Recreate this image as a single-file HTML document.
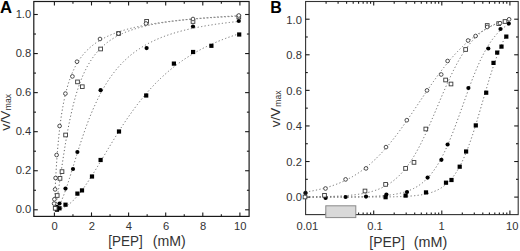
<!DOCTYPE html>
<html><head><meta charset="utf-8"><style>
html,body{margin:0;padding:0;background:#fff;}
body{width:520px;height:251px;overflow:hidden;}
svg{display:block;font-family:"Liberation Sans",sans-serif;fill:#333;}
</style></head><body>
<svg width="520" height="251" viewBox="0 0 520 251">
<rect width="520" height="251" fill="#fff"/>
<path d="M54.44,208.36 L54.70,200.44 L54.96,193.73 L55.23,187.71 L55.49,182.21 L55.76,177.14 L56.02,172.43 L56.28,168.02 L56.55,163.89 L56.81,160.01 L57.07,156.34 L57.34,152.87 L57.60,149.58 L57.87,146.46 L58.13,143.48 L58.39,140.65 L58.66,137.94 L58.92,135.35 L59.18,132.87 L59.45,130.50 L59.71,128.22 L59.98,126.03 L60.24,123.92 L60.50,121.90 L60.77,119.95 L61.03,118.07 L61.29,116.25 L61.56,114.50 L61.82,112.81 L62.09,111.17 L62.35,109.59 L62.61,108.06 L62.88,106.57 L63.14,105.13 L63.40,103.74 L63.67,102.38 L63.93,101.07 L64.20,99.79 L64.46,98.55 L64.72,97.34 L64.99,96.17 L65.25,95.03 L65.51,93.92 L65.78,92.83 L66.04,91.78 L66.31,90.75 L66.57,89.75 L66.83,88.77 L67.10,87.82 L67.36,86.89 L67.62,85.98 L67.89,85.09 L68.15,84.23 L68.42,83.38 L68.68,82.55 L68.94,81.74 L69.21,80.95 L69.47,80.17 L69.73,79.42 L70.00,78.67 L70.26,77.95 L70.53,77.24 L70.79,76.54 L71.05,75.86 L71.32,75.19 L71.58,74.53 L71.84,73.89 L72.11,73.26 L72.37,72.64 L72.64,72.03 L72.90,71.44 L73.16,70.85 L73.43,70.28 L73.69,69.72 L73.95,69.16 L74.22,68.62 L74.48,68.09 L74.75,67.56 L75.01,67.05 L75.27,66.54 L75.54,66.05 L75.80,65.56 L76.06,65.08 L76.33,64.60 L76.59,64.14 L76.86,63.68 L77.12,63.23 L77.38,62.79 L77.65,62.35 L77.91,61.92 L78.17,61.50 L78.44,61.08 L78.70,60.67 L78.97,60.27 L79.23,59.87 L79.49,59.48 L79.76,59.10 L80.02,58.72 L80.28,58.34 L80.55,57.97 L80.81,57.61 L81.08,57.25 L81.34,56.90 L81.60,56.55 L81.87,56.21 L82.13,55.87 L82.39,55.53 L82.66,55.20 L82.92,54.88 L83.19,54.56 L83.45,54.24 L83.71,53.93 L83.98,53.62 L84.24,53.32 L84.50,53.02 L84.77,52.72 L85.03,52.43 L85.30,52.14 L85.56,51.86 L85.82,51.57 L86.09,51.30 L86.35,51.02 L86.61,50.75 L86.88,50.48 L87.14,50.22 L87.41,49.96 L87.67,49.70 L87.93,49.44 L88.20,49.19 L88.46,48.94 L88.72,48.69 L88.99,48.45 L89.25,48.21 L89.52,47.97 L89.78,47.74 L90.04,47.50 L90.31,47.27 L90.57,47.05 L90.83,46.82 L91.10,46.60 L91.36,46.38 L91.63,46.16 L91.89,45.95 L92.15,45.73 L92.42,45.52 L92.68,45.32 L92.94,45.11 L93.21,44.91 L93.47,44.70 L93.74,44.50 L94.00,44.31 L94.26,44.11 L94.53,43.92 L94.79,43.73 L95.05,43.54 L95.32,43.35 L95.58,43.16 L95.85,42.98 L96.11,42.80 L96.37,42.62 L96.64,42.44 L96.90,42.26 L97.16,42.09 L97.43,41.91 L97.69,41.74 L97.96,41.57 L98.22,41.40 L98.48,41.23 L98.75,41.07 L99.01,40.91 L99.28,40.74 L99.54,40.58 L99.80,40.42 L100.07,40.27 L100.33,40.11 L100.59,39.95 L100.86,39.80 L101.12,39.65 L101.39,39.50 L101.65,39.35 L101.91,39.20 L102.18,39.05 L102.44,38.91 L102.70,38.76 L102.97,38.62 L103.23,38.48 L103.50,38.34 L103.76,38.20 L104.02,38.06 L104.29,37.92 L104.55,37.79 L104.81,37.65 L105.08,37.52 L105.34,37.39 L105.61,37.26 L105.87,37.13 L106.13,37.00 L106.40,36.87 L106.66,36.74 L106.92,36.62 L107.19,36.49 L107.45,36.37 L107.72,36.25 L107.98,36.12 L108.24,36.00 L108.51,35.88 L108.77,35.76 L109.03,35.65 L109.30,35.53 L109.56,35.41 L109.83,35.30 L110.09,35.18 L110.35,35.07 L110.62,34.96 L110.88,34.84 L111.14,34.73 L111.41,34.62 L111.67,34.51 L111.94,34.41 L112.20,34.30 L112.46,34.19 L112.73,34.09 L112.99,33.98 L113.25,33.88 L113.52,33.77 L113.78,33.67 L114.05,33.57 L114.31,33.47 L114.57,33.36 L114.84,33.26 L115.10,33.17 L115.36,33.07 L115.63,32.97 L115.89,32.87 L116.16,32.78 L116.42,32.68 L116.68,32.58 L116.95,32.49 L117.21,32.40 L117.47,32.30 L117.74,32.21 L118.00,32.12 L118.27,32.03 L118.53,31.94 L118.79,31.85 L119.06,31.76 L119.32,31.67 L119.58,31.58 L119.85,31.49 L120.11,31.41 L120.38,31.32 L120.64,31.23 L120.90,31.15 L121.17,31.06 L121.43,30.98 L121.69,30.90 L121.96,30.81 L122.22,30.73 L122.49,30.65 L122.75,30.57 L123.01,30.49 L123.28,30.41 L123.54,30.33 L123.80,30.25 L124.07,30.17 L124.33,30.09 L124.60,30.01 L124.86,29.94 L125.12,29.86 L125.39,29.78 L125.65,29.71 L125.91,29.63 L126.18,29.56 L126.44,29.48 L126.71,29.41 L126.97,29.33 L127.23,29.26 L127.50,29.19 L127.76,29.12 L128.02,29.04 L128.29,28.97 L128.55,28.90 L128.82,28.83 L129.08,28.76 L129.34,28.69 L129.61,28.62 L129.87,28.55 L130.13,28.48 L130.40,28.42 L130.66,28.35 L130.93,28.28 L131.19,28.22 L131.45,28.15 L131.72,28.08 L131.98,28.02 L132.24,27.95 L132.51,27.89 L132.77,27.82 L133.04,27.76 L133.30,27.69 L133.56,27.63 L133.83,27.57 L134.09,27.50 L134.35,27.44 L134.62,27.38 L134.88,27.32 L135.15,27.26 L135.41,27.20 L135.67,27.14 L135.94,27.08 L136.20,27.02 L136.46,26.96 L136.73,26.90 L136.99,26.84 L137.26,26.78 L137.52,26.72 L137.78,26.66 L138.05,26.60 L138.31,26.55 L138.57,26.49 L138.84,26.43 L139.10,26.38 L139.37,26.32 L139.63,26.26 L139.89,26.21 L140.16,26.15 L140.42,26.10 L140.68,26.04 L140.95,25.99 L141.21,25.94 L141.48,25.88 L141.74,25.83 L142.00,25.77 L142.27,25.72 L142.53,25.67 L142.79,25.62 L143.06,25.56 L143.32,25.51 L143.59,25.46 L143.85,25.41 L144.11,25.36 L144.38,25.31 L144.64,25.26 L144.90,25.21 L145.17,25.16 L145.43,25.11 L145.70,25.06 L145.96,25.01 L146.22,24.96 L146.49,24.91 L146.75,24.86 L147.01,24.81 L147.28,24.76 L147.54,24.71 L147.81,24.67 L148.07,24.62 L148.33,24.57 L148.60,24.53 L148.86,24.48 L149.12,24.43 L149.39,24.39 L149.65,24.34 L149.92,24.29 L150.18,24.25 L150.44,24.20 L150.71,24.16 L150.97,24.11 L151.23,24.07 L151.50,24.02 L151.76,23.98 L152.03,23.93 L152.29,23.89 L152.55,23.85 L152.82,23.80 L153.08,23.76 L153.34,23.72 L153.61,23.67 L153.87,23.63 L154.14,23.59 L154.40,23.55 L154.66,23.50 L154.93,23.46 L155.19,23.42 L155.45,23.38 L155.72,23.34 L155.98,23.29 L156.25,23.25 L156.51,23.21 L156.77,23.17 L157.04,23.13 L157.30,23.09 L157.56,23.05 L157.83,23.01 L158.09,22.97 L158.36,22.93 L158.62,22.89 L158.88,22.85 L159.15,22.81 L159.41,22.78 L159.67,22.74 L159.94,22.70 L160.20,22.66 L160.47,22.62 L160.73,22.58 L160.99,22.55 L161.26,22.51 L161.52,22.47 L161.78,22.43 L162.05,22.40 L162.31,22.36 L162.58,22.32 L162.84,22.28 L163.10,22.25 L163.37,22.21 L163.63,22.17 L163.89,22.14 L164.16,22.10 L164.42,22.07 L164.69,22.03 L164.95,22.00 L165.21,21.96 L165.48,21.92 L165.74,21.89 L166.00,21.85 L166.27,21.82 L166.53,21.79 L166.80,21.75 L167.06,21.72 L167.32,21.68 L167.59,21.65 L167.85,21.61 L168.11,21.58 L168.38,21.55 L168.64,21.51 L168.91,21.48 L169.17,21.45 L169.43,21.41 L169.70,21.38 L169.96,21.35 L170.22,21.31 L170.49,21.28 L170.75,21.25 L171.02,21.22 L171.28,21.18 L171.54,21.15 L171.81,21.12 L172.07,21.09 L172.33,21.06 L172.60,21.03 L172.86,20.99 L173.13,20.96 L173.39,20.93 L173.65,20.90 L173.92,20.87 L174.18,20.84 L174.44,20.81 L174.71,20.78 L174.97,20.75 L175.24,20.72 L175.50,20.69 L175.76,20.66 L176.03,20.63 L176.29,20.60 L176.55,20.57 L176.82,20.54 L177.08,20.51 L177.35,20.48 L177.61,20.45 L177.87,20.42 L178.14,20.39 L178.40,20.36 L178.66,20.33 L178.93,20.30 L179.19,20.27 L179.46,20.24 L179.72,20.22 L179.98,20.19 L180.25,20.16 L180.51,20.13 L180.77,20.10 L181.04,20.08 L181.30,20.05 L181.57,20.02 L181.83,19.99 L182.09,19.96 L182.36,19.94 L182.62,19.91 L182.88,19.88 L183.15,19.86 L183.41,19.83 L183.68,19.80 L183.94,19.77 L184.20,19.75 L184.47,19.72 L184.73,19.69 L184.99,19.67 L185.26,19.64 L185.52,19.61 L185.79,19.59 L186.05,19.56 L186.31,19.54 L186.58,19.51 L186.84,19.48 L187.10,19.46 L187.37,19.43 L187.63,19.41 L187.90,19.38 L188.16,19.36 L188.42,19.33 L188.69,19.31 L188.95,19.28 L189.21,19.26 L189.48,19.23 L189.74,19.21 L190.01,19.18 L190.27,19.16 L190.53,19.13 L190.80,19.11 L191.06,19.08 L191.32,19.06 L191.59,19.03 L191.85,19.01 L192.12,18.99 L192.38,18.96 L192.64,18.94 L192.91,18.91 L193.17,18.89 L193.43,18.87 L193.70,18.84 L193.96,18.82 L194.23,18.80 L194.49,18.77 L194.75,18.75 L195.02,18.73 L195.28,18.70 L195.54,18.68 L195.81,18.66 L196.07,18.63 L196.34,18.61 L196.60,18.59 L196.86,18.57 L197.13,18.54 L197.39,18.52 L197.65,18.50 L197.92,18.48 L198.18,18.45 L198.45,18.43 L198.71,18.41 L198.97,18.39 L199.24,18.37 L199.50,18.34 L199.76,18.32 L200.03,18.30 L200.29,18.28 L200.56,18.26 L200.82,18.23 L201.08,18.21 L201.35,18.19 L201.61,18.17 L201.87,18.15 L202.14,18.13 L202.40,18.11 L202.67,18.09 L202.93,18.06 L203.19,18.04 L203.46,18.02 L203.72,18.00 L203.98,17.98 L204.25,17.96 L204.51,17.94 L204.78,17.92 L205.04,17.90 L205.30,17.88 L205.57,17.86 L205.83,17.84 L206.09,17.82 L206.36,17.80 L206.62,17.78 L206.89,17.76 L207.15,17.74 L207.41,17.72 L207.68,17.70 L207.94,17.68 L208.20,17.66 L208.47,17.64 L208.73,17.62 L209.00,17.60 L209.26,17.58 L209.52,17.56 L209.79,17.54 L210.05,17.52 L210.31,17.50 L210.58,17.48 L210.84,17.46 L211.11,17.44 L211.37,17.42 L211.63,17.41 L211.90,17.39 L212.16,17.37 L212.42,17.35 L212.69,17.33 L212.95,17.31 L213.22,17.29 L213.48,17.27 L213.74,17.26 L214.01,17.24 L214.27,17.22 L214.53,17.20 L214.80,17.18 L215.06,17.16 L215.33,17.15 L215.59,17.13 L215.85,17.11 L216.12,17.09 L216.38,17.07 L216.64,17.05 L216.91,17.04 L217.17,17.02 L217.44,17.00 L217.70,16.98 L217.96,16.97 L218.23,16.95 L218.49,16.93 L218.75,16.91 L219.02,16.90 L219.28,16.88 L219.55,16.86 L219.81,16.84 L220.07,16.83 L220.34,16.81 L220.60,16.79 L220.86,16.77 L221.13,16.76 L221.39,16.74 L221.66,16.72 L221.92,16.71 L222.18,16.69 L222.45,16.67 L222.71,16.66 L222.97,16.64 L223.24,16.62 L223.50,16.61 L223.77,16.59 L224.03,16.57 L224.29,16.56 L224.56,16.54 L224.82,16.52 L225.08,16.51 L225.35,16.49 L225.61,16.47 L225.88,16.46 L226.14,16.44 L226.40,16.42 L226.67,16.41 L226.93,16.39 L227.19,16.38 L227.46,16.36 L227.72,16.34 L227.99,16.33 L228.25,16.31 L228.51,16.30 L228.78,16.28 L229.04,16.27 L229.30,16.25 L229.57,16.23 L229.83,16.22 L230.10,16.20 L230.36,16.19 L230.62,16.17 L230.89,16.16 L231.15,16.14 L231.41,16.13 L231.68,16.11 L231.94,16.10 L232.21,16.08 L232.47,16.07 L232.73,16.05 L233.00,16.03 L233.26,16.02 L233.52,16.00 L233.79,15.99 L234.05,15.97 L234.32,15.96 L234.58,15.94 L234.84,15.93 L235.11,15.92 L235.37,15.90 L235.63,15.89 L235.90,15.87 L236.16,15.86 L236.43,15.84 L236.69,15.83 L236.95,15.81 L237.22,15.80 L237.48,15.78 L237.74,15.77 L238.01,15.76 L238.27,15.74 L238.54,15.73 L238.80,15.71" fill="none" stroke="#646464" stroke-width="1.0" stroke-dasharray="1.2 2.3"/>
<path d="M54.44,209.78 L54.70,209.36 L54.96,208.67 L55.23,207.80 L55.49,206.79 L55.76,205.65 L56.02,204.42 L56.28,203.09 L56.55,201.69 L56.81,200.22 L57.07,198.70 L57.34,197.12 L57.60,195.49 L57.87,193.83 L58.13,192.14 L58.39,190.41 L58.66,188.66 L58.92,186.89 L59.18,185.11 L59.45,183.31 L59.71,181.50 L59.98,179.69 L60.24,177.87 L60.50,176.05 L60.77,174.23 L61.03,172.41 L61.29,170.60 L61.56,168.79 L61.82,166.99 L62.09,165.20 L62.35,163.42 L62.61,161.65 L62.88,159.89 L63.14,158.15 L63.40,156.42 L63.67,154.71 L63.93,153.01 L64.20,151.33 L64.46,149.67 L64.72,148.03 L64.99,146.40 L65.25,144.79 L65.51,143.20 L65.78,141.63 L66.04,140.07 L66.31,138.54 L66.57,137.02 L66.83,135.53 L67.10,134.05 L67.36,132.60 L67.62,131.16 L67.89,129.74 L68.15,128.34 L68.42,126.97 L68.68,125.61 L68.94,124.27 L69.21,122.94 L69.47,121.64 L69.73,120.36 L70.00,119.09 L70.26,117.85 L70.53,116.62 L70.79,115.41 L71.05,114.21 L71.32,113.04 L71.58,111.88 L71.84,110.74 L72.11,109.62 L72.37,108.51 L72.64,107.42 L72.90,106.35 L73.16,105.29 L73.43,104.25 L73.69,103.22 L73.95,102.21 L74.22,101.21 L74.48,100.23 L74.75,99.26 L75.01,98.31 L75.27,97.37 L75.54,96.45 L75.80,95.54 L76.06,94.64 L76.33,93.76 L76.59,92.89 L76.86,92.03 L77.12,91.19 L77.38,90.36 L77.65,89.54 L77.91,88.73 L78.17,87.94 L78.44,87.15 L78.70,86.38 L78.97,85.62 L79.23,84.87 L79.49,84.13 L79.76,83.40 L80.02,82.69 L80.28,81.98 L80.55,81.28 L80.81,80.60 L81.08,79.92 L81.34,79.25 L81.60,78.59 L81.87,77.94 L82.13,77.30 L82.39,76.67 L82.66,76.05 L82.92,75.44 L83.19,74.84 L83.45,74.24 L83.71,73.65 L83.98,73.07 L84.24,72.50 L84.50,71.94 L84.77,71.38 L85.03,70.83 L85.30,70.29 L85.56,69.76 L85.82,69.23 L86.09,68.72 L86.35,68.20 L86.61,67.70 L86.88,67.20 L87.14,66.71 L87.41,66.22 L87.67,65.74 L87.93,65.27 L88.20,64.80 L88.46,64.34 L88.72,63.89 L88.99,63.44 L89.25,63.00 L89.52,62.56 L89.78,62.13 L90.04,61.70 L90.31,61.28 L90.57,60.87 L90.83,60.46 L91.10,60.05 L91.36,59.65 L91.63,59.26 L91.89,58.87 L92.15,58.49 L92.42,58.11 L92.68,57.73 L92.94,57.36 L93.21,56.99 L93.47,56.63 L93.74,56.27 L94.00,55.92 L94.26,55.57 L94.53,55.23 L94.79,54.89 L95.05,54.55 L95.32,54.22 L95.58,53.89 L95.85,53.56 L96.11,53.24 L96.37,52.92 L96.64,52.61 L96.90,52.30 L97.16,52.00 L97.43,51.69 L97.69,51.39 L97.96,51.10 L98.22,50.80 L98.48,50.52 L98.75,50.23 L99.01,49.95 L99.28,49.67 L99.54,49.39 L99.80,49.12 L100.07,48.85 L100.33,48.58 L100.59,48.32 L100.86,48.05 L101.12,47.80 L101.39,47.54 L101.65,47.29 L101.91,47.04 L102.18,46.79 L102.44,46.54 L102.70,46.30 L102.97,46.06 L103.23,45.82 L103.50,45.59 L103.76,45.36 L104.02,45.13 L104.29,44.90 L104.55,44.68 L104.81,44.45 L105.08,44.23 L105.34,44.01 L105.61,43.80 L105.87,43.58 L106.13,43.37 L106.40,43.16 L106.66,42.96 L106.92,42.75 L107.19,42.55 L107.45,42.35 L107.72,42.15 L107.98,41.95 L108.24,41.76 L108.51,41.56 L108.77,41.37 L109.03,41.18 L109.30,41.00 L109.56,40.81 L109.83,40.63 L110.09,40.44 L110.35,40.26 L110.62,40.09 L110.88,39.91 L111.14,39.73 L111.41,39.56 L111.67,39.39 L111.94,39.22 L112.20,39.05 L112.46,38.88 L112.73,38.72 L112.99,38.55 L113.25,38.39 L113.52,38.23 L113.78,38.07 L114.05,37.91 L114.31,37.76 L114.57,37.60 L114.84,37.45 L115.10,37.30 L115.36,37.15 L115.63,37.00 L115.89,36.85 L116.16,36.70 L116.42,36.56 L116.68,36.41 L116.95,36.27 L117.21,36.13 L117.47,35.99 L117.74,35.85 L118.00,35.71 L118.27,35.57 L118.53,35.44 L118.79,35.30 L119.06,35.17 L119.32,35.04 L119.58,34.91 L119.85,34.78 L120.11,34.65 L120.38,34.52 L120.64,34.40 L120.90,34.27 L121.17,34.15 L121.43,34.02 L121.69,33.90 L121.96,33.78 L122.22,33.66 L122.49,33.54 L122.75,33.42 L123.01,33.31 L123.28,33.19 L123.54,33.07 L123.80,32.96 L124.07,32.85 L124.33,32.73 L124.60,32.62 L124.86,32.51 L125.12,32.40 L125.39,32.29 L125.65,32.19 L125.91,32.08 L126.18,31.97 L126.44,31.87 L126.71,31.76 L126.97,31.66 L127.23,31.56 L127.50,31.45 L127.76,31.35 L128.02,31.25 L128.29,31.15 L128.55,31.05 L128.82,30.95 L129.08,30.86 L129.34,30.76 L129.61,30.66 L129.87,30.57 L130.13,30.48 L130.40,30.38 L130.66,30.29 L130.93,30.20 L131.19,30.10 L131.45,30.01 L131.72,29.92 L131.98,29.83 L132.24,29.75 L132.51,29.66 L132.77,29.57 L133.04,29.48 L133.30,29.40 L133.56,29.31 L133.83,29.23 L134.09,29.14 L134.35,29.06 L134.62,28.97 L134.88,28.89 L135.15,28.81 L135.41,28.73 L135.67,28.65 L135.94,28.57 L136.20,28.49 L136.46,28.41 L136.73,28.33 L136.99,28.25 L137.26,28.18 L137.52,28.10 L137.78,28.02 L138.05,27.95 L138.31,27.87 L138.57,27.80 L138.84,27.72 L139.10,27.65 L139.37,27.58 L139.63,27.50 L139.89,27.43 L140.16,27.36 L140.42,27.29 L140.68,27.22 L140.95,27.15 L141.21,27.08 L141.48,27.01 L141.74,26.94 L142.00,26.87 L142.27,26.80 L142.53,26.74 L142.79,26.67 L143.06,26.60 L143.32,26.54 L143.59,26.47 L143.85,26.41 L144.11,26.34 L144.38,26.28 L144.64,26.21 L144.90,26.15 L145.17,26.09 L145.43,26.03 L145.70,25.96 L145.96,25.90 L146.22,25.84 L146.49,25.78 L146.75,25.72 L147.01,25.66 L147.28,25.60 L147.54,25.54 L147.81,25.48 L148.07,25.42 L148.33,25.36 L148.60,25.31 L148.86,25.25 L149.12,25.19 L149.39,25.13 L149.65,25.08 L149.92,25.02 L150.18,24.97 L150.44,24.91 L150.71,24.86 L150.97,24.80 L151.23,24.75 L151.50,24.69 L151.76,24.64 L152.03,24.59 L152.29,24.53 L152.55,24.48 L152.82,24.43 L153.08,24.38 L153.34,24.32 L153.61,24.27 L153.87,24.22 L154.14,24.17 L154.40,24.12 L154.66,24.07 L154.93,24.02 L155.19,23.97 L155.45,23.92 L155.72,23.87 L155.98,23.82 L156.25,23.78 L156.51,23.73 L156.77,23.68 L157.04,23.63 L157.30,23.59 L157.56,23.54 L157.83,23.49 L158.09,23.45 L158.36,23.40 L158.62,23.35 L158.88,23.31 L159.15,23.26 L159.41,23.22 L159.67,23.17 L159.94,23.13 L160.20,23.08 L160.47,23.04 L160.73,23.00 L160.99,22.95 L161.26,22.91 L161.52,22.87 L161.78,22.82 L162.05,22.78 L162.31,22.74 L162.58,22.70 L162.84,22.65 L163.10,22.61 L163.37,22.57 L163.63,22.53 L163.89,22.49 L164.16,22.45 L164.42,22.41 L164.69,22.37 L164.95,22.33 L165.21,22.29 L165.48,22.25 L165.74,22.21 L166.00,22.17 L166.27,22.13 L166.53,22.09 L166.80,22.05 L167.06,22.02 L167.32,21.98 L167.59,21.94 L167.85,21.90 L168.11,21.86 L168.38,21.83 L168.64,21.79 L168.91,21.75 L169.17,21.72 L169.43,21.68 L169.70,21.64 L169.96,21.61 L170.22,21.57 L170.49,21.54 L170.75,21.50 L171.02,21.47 L171.28,21.43 L171.54,21.40 L171.81,21.36 L172.07,21.33 L172.33,21.29 L172.60,21.26 L172.86,21.22 L173.13,21.19 L173.39,21.16 L173.65,21.12 L173.92,21.09 L174.18,21.06 L174.44,21.02 L174.71,20.99 L174.97,20.96 L175.24,20.93 L175.50,20.89 L175.76,20.86 L176.03,20.83 L176.29,20.80 L176.55,20.77 L176.82,20.73 L177.08,20.70 L177.35,20.67 L177.61,20.64 L177.87,20.61 L178.14,20.58 L178.40,20.55 L178.66,20.52 L178.93,20.49 L179.19,20.46 L179.46,20.43 L179.72,20.40 L179.98,20.37 L180.25,20.34 L180.51,20.31 L180.77,20.28 L181.04,20.25 L181.30,20.22 L181.57,20.19 L181.83,20.16 L182.09,20.14 L182.36,20.11 L182.62,20.08 L182.88,20.05 L183.15,20.02 L183.41,19.99 L183.68,19.97 L183.94,19.94 L184.20,19.91 L184.47,19.88 L184.73,19.86 L184.99,19.83 L185.26,19.80 L185.52,19.78 L185.79,19.75 L186.05,19.72 L186.31,19.70 L186.58,19.67 L186.84,19.64 L187.10,19.62 L187.37,19.59 L187.63,19.57 L187.90,19.54 L188.16,19.52 L188.42,19.49 L188.69,19.46 L188.95,19.44 L189.21,19.41 L189.48,19.39 L189.74,19.36 L190.01,19.34 L190.27,19.32 L190.53,19.29 L190.80,19.27 L191.06,19.24 L191.32,19.22 L191.59,19.19 L191.85,19.17 L192.12,19.15 L192.38,19.12 L192.64,19.10 L192.91,19.07 L193.17,19.05 L193.43,19.03 L193.70,19.00 L193.96,18.98 L194.23,18.96 L194.49,18.94 L194.75,18.91 L195.02,18.89 L195.28,18.87 L195.54,18.85 L195.81,18.82 L196.07,18.80 L196.34,18.78 L196.60,18.76 L196.86,18.73 L197.13,18.71 L197.39,18.69 L197.65,18.67 L197.92,18.65 L198.18,18.63 L198.45,18.60 L198.71,18.58 L198.97,18.56 L199.24,18.54 L199.50,18.52 L199.76,18.50 L200.03,18.48 L200.29,18.46 L200.56,18.44 L200.82,18.42 L201.08,18.39 L201.35,18.37 L201.61,18.35 L201.87,18.33 L202.14,18.31 L202.40,18.29 L202.67,18.27 L202.93,18.25 L203.19,18.23 L203.46,18.21 L203.72,18.19 L203.98,18.17 L204.25,18.16 L204.51,18.14 L204.78,18.12 L205.04,18.10 L205.30,18.08 L205.57,18.06 L205.83,18.04 L206.09,18.02 L206.36,18.00 L206.62,17.98 L206.89,17.96 L207.15,17.95 L207.41,17.93 L207.68,17.91 L207.94,17.89 L208.20,17.87 L208.47,17.85 L208.73,17.84 L209.00,17.82 L209.26,17.80 L209.52,17.78 L209.79,17.76 L210.05,17.75 L210.31,17.73 L210.58,17.71 L210.84,17.69 L211.11,17.68 L211.37,17.66 L211.63,17.64 L211.90,17.62 L212.16,17.61 L212.42,17.59 L212.69,17.57 L212.95,17.55 L213.22,17.54 L213.48,17.52 L213.74,17.50 L214.01,17.49 L214.27,17.47 L214.53,17.45 L214.80,17.44 L215.06,17.42 L215.33,17.40 L215.59,17.39 L215.85,17.37 L216.12,17.36 L216.38,17.34 L216.64,17.32 L216.91,17.31 L217.17,17.29 L217.44,17.27 L217.70,17.26 L217.96,17.24 L218.23,17.23 L218.49,17.21 L218.75,17.20 L219.02,17.18 L219.28,17.16 L219.55,17.15 L219.81,17.13 L220.07,17.12 L220.34,17.10 L220.60,17.09 L220.86,17.07 L221.13,17.06 L221.39,17.04 L221.66,17.03 L221.92,17.01 L222.18,17.00 L222.45,16.98 L222.71,16.97 L222.97,16.95 L223.24,16.94 L223.50,16.92 L223.77,16.91 L224.03,16.90 L224.29,16.88 L224.56,16.87 L224.82,16.85 L225.08,16.84 L225.35,16.82 L225.61,16.81 L225.88,16.80 L226.14,16.78 L226.40,16.77 L226.67,16.75 L226.93,16.74 L227.19,16.73 L227.46,16.71 L227.72,16.70 L227.99,16.68 L228.25,16.67 L228.51,16.66 L228.78,16.64 L229.04,16.63 L229.30,16.62 L229.57,16.60 L229.83,16.59 L230.10,16.58 L230.36,16.56 L230.62,16.55 L230.89,16.54 L231.15,16.52 L231.41,16.51 L231.68,16.50 L231.94,16.48 L232.21,16.47 L232.47,16.46 L232.73,16.45 L233.00,16.43 L233.26,16.42 L233.52,16.41 L233.79,16.40 L234.05,16.38 L234.32,16.37 L234.58,16.36 L234.84,16.34 L235.11,16.33 L235.37,16.32 L235.63,16.31 L235.90,16.30 L236.16,16.28 L236.43,16.27 L236.69,16.26 L236.95,16.25 L237.22,16.23 L237.48,16.22 L237.74,16.21 L238.01,16.20 L238.27,16.19 L238.54,16.17 L238.80,16.16" fill="none" stroke="#646464" stroke-width="1.0" stroke-dasharray="1.2 2.3"/>
<path d="M54.44,209.80 L54.70,209.77 L54.96,209.70 L55.23,209.60 L55.49,209.47 L55.76,209.31 L56.02,209.12 L56.28,208.91 L56.55,208.68 L56.81,208.42 L57.07,208.14 L57.34,207.84 L57.60,207.52 L57.87,207.17 L58.13,206.81 L58.39,206.42 L58.66,206.02 L58.92,205.60 L59.18,205.16 L59.45,204.70 L59.71,204.23 L59.98,203.73 L60.24,203.23 L60.50,202.70 L60.77,202.16 L61.03,201.61 L61.29,201.04 L61.56,200.46 L61.82,199.86 L62.09,199.26 L62.35,198.63 L62.61,198.00 L62.88,197.35 L63.14,196.69 L63.40,196.03 L63.67,195.35 L63.93,194.66 L64.20,193.96 L64.46,193.24 L64.72,192.53 L64.99,191.80 L65.25,191.06 L65.51,190.31 L65.78,189.56 L66.04,188.80 L66.31,188.03 L66.57,187.26 L66.83,186.48 L67.10,185.69 L67.36,184.89 L67.62,184.09 L67.89,183.29 L68.15,182.48 L68.42,181.67 L68.68,180.85 L68.94,180.02 L69.21,179.20 L69.47,178.37 L69.73,177.53 L70.00,176.69 L70.26,175.85 L70.53,175.01 L70.79,174.17 L71.05,173.32 L71.32,172.47 L71.58,171.62 L71.84,170.77 L72.11,169.91 L72.37,169.06 L72.64,168.21 L72.90,167.35 L73.16,166.49 L73.43,165.64 L73.69,164.78 L73.95,163.93 L74.22,163.07 L74.48,162.21 L74.75,161.36 L75.01,160.51 L75.27,159.65 L75.54,158.80 L75.80,157.95 L76.06,157.10 L76.33,156.26 L76.59,155.41 L76.86,154.57 L77.12,153.73 L77.38,152.89 L77.65,152.05 L77.91,151.21 L78.17,150.38 L78.44,149.55 L78.70,148.72 L78.97,147.90 L79.23,147.08 L79.49,146.26 L79.76,145.44 L80.02,144.63 L80.28,143.82 L80.55,143.01 L80.81,142.21 L81.08,141.41 L81.34,140.61 L81.60,139.82 L81.87,139.03 L82.13,138.24 L82.39,137.46 L82.66,136.68 L82.92,135.91 L83.19,135.14 L83.45,134.37 L83.71,133.61 L83.98,132.85 L84.24,132.09 L84.50,131.34 L84.77,130.59 L85.03,129.85 L85.30,129.11 L85.56,128.38 L85.82,127.64 L86.09,126.92 L86.35,126.20 L86.61,125.48 L86.88,124.76 L87.14,124.05 L87.41,123.35 L87.67,122.65 L87.93,121.95 L88.20,121.26 L88.46,120.57 L88.72,119.88 L88.99,119.21 L89.25,118.53 L89.52,117.86 L89.78,117.19 L90.04,116.53 L90.31,115.87 L90.57,115.22 L90.83,114.57 L91.10,113.92 L91.36,113.28 L91.63,112.64 L91.89,112.01 L92.15,111.38 L92.42,110.76 L92.68,110.14 L92.94,109.53 L93.21,108.91 L93.47,108.31 L93.74,107.70 L94.00,107.11 L94.26,106.51 L94.53,105.92 L94.79,105.34 L95.05,104.75 L95.32,104.18 L95.58,103.60 L95.85,103.03 L96.11,102.47 L96.37,101.91 L96.64,101.35 L96.90,100.80 L97.16,100.25 L97.43,99.70 L97.69,99.16 L97.96,98.62 L98.22,98.09 L98.48,97.56 L98.75,97.03 L99.01,96.51 L99.28,95.99 L99.54,95.48 L99.80,94.97 L100.07,94.46 L100.33,93.96 L100.59,93.46 L100.86,92.96 L101.12,92.47 L101.39,91.98 L101.65,91.50 L101.91,91.01 L102.18,90.54 L102.44,90.06 L102.70,89.59 L102.97,89.12 L103.23,88.66 L103.50,88.20 L103.76,87.74 L104.02,87.29 L104.29,86.84 L104.55,86.39 L104.81,85.95 L105.08,85.51 L105.34,85.07 L105.61,84.64 L105.87,84.21 L106.13,83.78 L106.40,83.36 L106.66,82.94 L106.92,82.52 L107.19,82.11 L107.45,81.70 L107.72,81.29 L107.98,80.88 L108.24,80.48 L108.51,80.08 L108.77,79.68 L109.03,79.29 L109.30,78.90 L109.56,78.51 L109.83,78.13 L110.09,77.75 L110.35,77.37 L110.62,76.99 L110.88,76.62 L111.14,76.25 L111.41,75.88 L111.67,75.52 L111.94,75.16 L112.20,74.80 L112.46,74.44 L112.73,74.09 L112.99,73.73 L113.25,73.38 L113.52,73.04 L113.78,72.69 L114.05,72.35 L114.31,72.01 L114.57,71.68 L114.84,71.35 L115.10,71.01 L115.36,70.69 L115.63,70.36 L115.89,70.03 L116.16,69.71 L116.42,69.39 L116.68,69.08 L116.95,68.76 L117.21,68.45 L117.47,68.14 L117.74,67.83 L118.00,67.53 L118.27,67.22 L118.53,66.92 L118.79,66.62 L119.06,66.33 L119.32,66.03 L119.58,65.74 L119.85,65.45 L120.11,65.16 L120.38,64.88 L120.64,64.59 L120.90,64.31 L121.17,64.03 L121.43,63.75 L121.69,63.48 L121.96,63.20 L122.22,62.93 L122.49,62.66 L122.75,62.39 L123.01,62.13 L123.28,61.86 L123.54,61.60 L123.80,61.34 L124.07,61.08 L124.33,60.82 L124.60,60.57 L124.86,60.31 L125.12,60.06 L125.39,59.81 L125.65,59.57 L125.91,59.32 L126.18,59.08 L126.44,58.83 L126.71,58.59 L126.97,58.35 L127.23,58.11 L127.50,57.88 L127.76,57.64 L128.02,57.41 L128.29,57.18 L128.55,56.95 L128.82,56.72 L129.08,56.50 L129.34,56.27 L129.61,56.05 L129.87,55.83 L130.13,55.61 L130.40,55.39 L130.66,55.17 L130.93,54.96 L131.19,54.74 L131.45,54.53 L131.72,54.32 L131.98,54.11 L132.24,53.90 L132.51,53.69 L132.77,53.49 L133.04,53.28 L133.30,53.08 L133.56,52.88 L133.83,52.68 L134.09,52.48 L134.35,52.28 L134.62,52.09 L134.88,51.89 L135.15,51.70 L135.41,51.50 L135.67,51.31 L135.94,51.12 L136.20,50.94 L136.46,50.75 L136.73,50.56 L136.99,50.38 L137.26,50.19 L137.52,50.01 L137.78,49.83 L138.05,49.65 L138.31,49.47 L138.57,49.30 L138.84,49.12 L139.10,48.94 L139.37,48.77 L139.63,48.60 L139.89,48.43 L140.16,48.25 L140.42,48.08 L140.68,47.92 L140.95,47.75 L141.21,47.58 L141.48,47.42 L141.74,47.25 L142.00,47.09 L142.27,46.93 L142.53,46.77 L142.79,46.61 L143.06,46.45 L143.32,46.29 L143.59,46.13 L143.85,45.98 L144.11,45.82 L144.38,45.67 L144.64,45.51 L144.90,45.36 L145.17,45.21 L145.43,45.06 L145.70,44.91 L145.96,44.76 L146.22,44.62 L146.49,44.47 L146.75,44.32 L147.01,44.18 L147.28,44.04 L147.54,43.89 L147.81,43.75 L148.07,43.61 L148.33,43.47 L148.60,43.33 L148.86,43.19 L149.12,43.05 L149.39,42.92 L149.65,42.78 L149.92,42.65 L150.18,42.51 L150.44,42.38 L150.71,42.25 L150.97,42.11 L151.23,41.98 L151.50,41.85 L151.76,41.72 L152.03,41.59 L152.29,41.47 L152.55,41.34 L152.82,41.21 L153.08,41.09 L153.34,40.96 L153.61,40.84 L153.87,40.71 L154.14,40.59 L154.40,40.47 L154.66,40.35 L154.93,40.23 L155.19,40.11 L155.45,39.99 L155.72,39.87 L155.98,39.75 L156.25,39.63 L156.51,39.52 L156.77,39.40 L157.04,39.29 L157.30,39.17 L157.56,39.06 L157.83,38.95 L158.09,38.83 L158.36,38.72 L158.62,38.61 L158.88,38.50 L159.15,38.39 L159.41,38.28 L159.67,38.17 L159.94,38.07 L160.20,37.96 L160.47,37.85 L160.73,37.75 L160.99,37.64 L161.26,37.53 L161.52,37.43 L161.78,37.33 L162.05,37.22 L162.31,37.12 L162.58,37.02 L162.84,36.92 L163.10,36.82 L163.37,36.72 L163.63,36.62 L163.89,36.52 L164.16,36.42 L164.42,36.32 L164.69,36.22 L164.95,36.13 L165.21,36.03 L165.48,35.93 L165.74,35.84 L166.00,35.74 L166.27,35.65 L166.53,35.56 L166.80,35.46 L167.06,35.37 L167.32,35.28 L167.59,35.19 L167.85,35.10 L168.11,35.00 L168.38,34.91 L168.64,34.82 L168.91,34.74 L169.17,34.65 L169.43,34.56 L169.70,34.47 L169.96,34.38 L170.22,34.30 L170.49,34.21 L170.75,34.12 L171.02,34.04 L171.28,33.95 L171.54,33.87 L171.81,33.78 L172.07,33.70 L172.33,33.62 L172.60,33.53 L172.86,33.45 L173.13,33.37 L173.39,33.29 L173.65,33.21 L173.92,33.13 L174.18,33.05 L174.44,32.97 L174.71,32.89 L174.97,32.81 L175.24,32.73 L175.50,32.65 L175.76,32.57 L176.03,32.50 L176.29,32.42 L176.55,32.34 L176.82,32.27 L177.08,32.19 L177.35,32.12 L177.61,32.04 L177.87,31.97 L178.14,31.89 L178.40,31.82 L178.66,31.75 L178.93,31.67 L179.19,31.60 L179.46,31.53 L179.72,31.46 L179.98,31.38 L180.25,31.31 L180.51,31.24 L180.77,31.17 L181.04,31.10 L181.30,31.03 L181.57,30.96 L181.83,30.89 L182.09,30.82 L182.36,30.75 L182.62,30.69 L182.88,30.62 L183.15,30.55 L183.41,30.48 L183.68,30.42 L183.94,30.35 L184.20,30.29 L184.47,30.22 L184.73,30.15 L184.99,30.09 L185.26,30.02 L185.52,29.96 L185.79,29.90 L186.05,29.83 L186.31,29.77 L186.58,29.70 L186.84,29.64 L187.10,29.58 L187.37,29.52 L187.63,29.46 L187.90,29.39 L188.16,29.33 L188.42,29.27 L188.69,29.21 L188.95,29.15 L189.21,29.09 L189.48,29.03 L189.74,28.97 L190.01,28.91 L190.27,28.85 L190.53,28.79 L190.80,28.73 L191.06,28.68 L191.32,28.62 L191.59,28.56 L191.85,28.50 L192.12,28.45 L192.38,28.39 L192.64,28.33 L192.91,28.28 L193.17,28.22 L193.43,28.16 L193.70,28.11 L193.96,28.05 L194.23,28.00 L194.49,27.94 L194.75,27.89 L195.02,27.83 L195.28,27.78 L195.54,27.73 L195.81,27.67 L196.07,27.62 L196.34,27.57 L196.60,27.51 L196.86,27.46 L197.13,27.41 L197.39,27.36 L197.65,27.30 L197.92,27.25 L198.18,27.20 L198.45,27.15 L198.71,27.10 L198.97,27.05 L199.24,27.00 L199.50,26.95 L199.76,26.90 L200.03,26.85 L200.29,26.80 L200.56,26.75 L200.82,26.70 L201.08,26.65 L201.35,26.60 L201.61,26.55 L201.87,26.51 L202.14,26.46 L202.40,26.41 L202.67,26.36 L202.93,26.32 L203.19,26.27 L203.46,26.22 L203.72,26.17 L203.98,26.13 L204.25,26.08 L204.51,26.04 L204.78,25.99 L205.04,25.94 L205.30,25.90 L205.57,25.85 L205.83,25.81 L206.09,25.76 L206.36,25.72 L206.62,25.67 L206.89,25.63 L207.15,25.59 L207.41,25.54 L207.68,25.50 L207.94,25.45 L208.20,25.41 L208.47,25.37 L208.73,25.33 L209.00,25.28 L209.26,25.24 L209.52,25.20 L209.79,25.15 L210.05,25.11 L210.31,25.07 L210.58,25.03 L210.84,24.99 L211.11,24.95 L211.37,24.91 L211.63,24.86 L211.90,24.82 L212.16,24.78 L212.42,24.74 L212.69,24.70 L212.95,24.66 L213.22,24.62 L213.48,24.58 L213.74,24.54 L214.01,24.50 L214.27,24.46 L214.53,24.42 L214.80,24.38 L215.06,24.35 L215.33,24.31 L215.59,24.27 L215.85,24.23 L216.12,24.19 L216.38,24.15 L216.64,24.12 L216.91,24.08 L217.17,24.04 L217.44,24.00 L217.70,23.97 L217.96,23.93 L218.23,23.89 L218.49,23.86 L218.75,23.82 L219.02,23.78 L219.28,23.75 L219.55,23.71 L219.81,23.67 L220.07,23.64 L220.34,23.60 L220.60,23.57 L220.86,23.53 L221.13,23.50 L221.39,23.46 L221.66,23.43 L221.92,23.39 L222.18,23.36 L222.45,23.32 L222.71,23.29 L222.97,23.25 L223.24,23.22 L223.50,23.18 L223.77,23.15 L224.03,23.12 L224.29,23.08 L224.56,23.05 L224.82,23.02 L225.08,22.98 L225.35,22.95 L225.61,22.92 L225.88,22.88 L226.14,22.85 L226.40,22.82 L226.67,22.79 L226.93,22.75 L227.19,22.72 L227.46,22.69 L227.72,22.66 L227.99,22.62 L228.25,22.59 L228.51,22.56 L228.78,22.53 L229.04,22.50 L229.30,22.47 L229.57,22.44 L229.83,22.41 L230.10,22.37 L230.36,22.34 L230.62,22.31 L230.89,22.28 L231.15,22.25 L231.41,22.22 L231.68,22.19 L231.94,22.16 L232.21,22.13 L232.47,22.10 L232.73,22.07 L233.00,22.04 L233.26,22.01 L233.52,21.98 L233.79,21.95 L234.05,21.93 L234.32,21.90 L234.58,21.87 L234.84,21.84 L235.11,21.81 L235.37,21.78 L235.63,21.75 L235.90,21.72 L236.16,21.70 L236.43,21.67 L236.69,21.64 L236.95,21.61 L237.22,21.58 L237.48,21.56 L237.74,21.53 L238.01,21.50 L238.27,21.47 L238.54,21.45 L238.80,21.42" fill="none" stroke="#646464" stroke-width="1.0" stroke-dasharray="1.2 2.3"/>
<path d="M54.44,209.80 L54.70,209.80 L54.97,209.79 L55.23,209.79 L55.49,209.77 L55.76,209.76 L56.02,209.74 L56.29,209.72 L56.55,209.69 L56.82,209.66 L57.08,209.63 L57.34,209.59 L57.61,209.55 L57.87,209.51 L58.14,209.46 L58.40,209.41 L58.67,209.35 L58.93,209.29 L59.19,209.23 L59.46,209.16 L59.72,209.09 L59.99,209.02 L60.25,208.94 L60.52,208.86 L60.78,208.77 L61.05,208.68 L61.31,208.59 L61.57,208.49 L61.84,208.39 L62.10,208.29 L62.37,208.18 L62.63,208.06 L62.90,207.95 L63.16,207.83 L63.42,207.70 L63.69,207.57 L63.95,207.44 L64.22,207.31 L64.48,207.17 L64.75,207.02 L65.01,206.88 L65.27,206.73 L65.54,206.57 L65.80,206.41 L66.07,206.25 L66.33,206.08 L66.60,205.91 L66.86,205.74 L67.12,205.56 L67.39,205.38 L67.65,205.20 L67.92,205.01 L68.18,204.82 L68.45,204.62 L68.71,204.42 L68.97,204.22 L69.24,204.01 L69.50,203.80 L69.77,203.59 L70.03,203.37 L70.30,203.15 L70.56,202.93 L70.83,202.70 L71.09,202.47 L71.35,202.24 L71.62,202.00 L71.88,201.76 L72.15,201.51 L72.41,201.27 L72.68,201.02 L72.94,200.76 L73.20,200.50 L73.47,200.24 L73.73,199.98 L74.00,199.71 L74.26,199.44 L74.53,199.17 L74.79,198.89 L75.05,198.61 L75.32,198.33 L75.58,198.04 L75.85,197.75 L76.11,197.46 L76.38,197.16 L76.64,196.87 L76.90,196.57 L77.17,196.26 L77.43,195.96 L77.70,195.65 L77.96,195.33 L78.23,195.02 L78.49,194.70 L78.75,194.38 L79.02,194.06 L79.28,193.73 L79.55,193.40 L79.81,193.07 L80.08,192.74 L80.34,192.40 L80.61,192.06 L80.87,191.72 L81.13,191.38 L81.40,191.03 L81.66,190.68 L81.93,190.33 L82.19,189.98 L82.46,189.63 L82.72,189.27 L82.98,188.91 L83.25,188.55 L83.51,188.18 L83.78,187.81 L84.04,187.45 L84.31,187.08 L84.57,186.70 L84.83,186.33 L85.10,185.95 L85.36,185.57 L85.63,185.19 L85.89,184.81 L86.16,184.43 L86.42,184.04 L86.68,183.65 L86.95,183.26 L87.21,182.87 L87.48,182.48 L87.74,182.08 L88.01,181.69 L88.27,181.29 L88.53,180.89 L88.80,180.49 L89.06,180.08 L89.33,179.68 L89.59,179.27 L89.86,178.87 L90.12,178.46 L90.39,178.05 L90.65,177.64 L90.91,177.22 L91.18,176.81 L91.44,176.39 L91.71,175.98 L91.97,175.56 L92.24,175.14 L92.50,174.72 L92.76,174.30 L93.03,173.88 L93.29,173.46 L93.56,173.03 L93.82,172.61 L94.09,172.18 L94.35,171.75 L94.61,171.33 L94.88,170.90 L95.14,170.47 L95.41,170.04 L95.67,169.60 L95.94,169.17 L96.20,168.74 L96.46,168.31 L96.73,167.87 L96.99,167.44 L97.26,167.00 L97.52,166.57 L97.79,166.13 L98.05,165.69 L98.31,165.25 L98.58,164.82 L98.84,164.38 L99.11,163.94 L99.37,163.50 L99.64,163.06 L99.90,162.62 L100.17,162.18 L100.43,161.74 L100.69,161.29 L100.96,160.85 L101.22,160.41 L101.49,159.97 L101.75,159.53 L102.02,159.08 L102.28,158.64 L102.54,158.20 L102.81,157.76 L103.07,157.31 L103.34,156.87 L103.60,156.43 L103.87,155.98 L104.13,155.54 L104.39,155.10 L104.66,154.65 L104.92,154.21 L105.19,153.77 L105.45,153.32 L105.72,152.88 L105.98,152.44 L106.24,151.99 L106.51,151.55 L106.77,151.11 L107.04,150.67 L107.30,150.23 L107.57,149.78 L107.83,149.34 L108.09,148.90 L108.36,148.46 L108.62,148.02 L108.89,147.58 L109.15,147.14 L109.42,146.70 L109.68,146.26 L109.95,145.82 L110.21,145.38 L110.47,144.95 L110.74,144.51 L111.00,144.07 L111.27,143.64 L111.53,143.20 L111.80,142.76 L112.06,142.33 L112.32,141.89 L112.59,141.46 L112.85,141.03 L113.12,140.59 L113.38,140.16 L113.65,139.73 L113.91,139.30 L114.17,138.87 L114.44,138.44 L114.70,138.01 L114.97,137.58 L115.23,137.15 L115.50,136.73 L115.76,136.30 L116.02,135.87 L116.29,135.45 L116.55,135.02 L116.82,134.60 L117.08,134.18 L117.35,133.76 L117.61,133.33 L117.88,132.91 L118.14,132.49 L118.40,132.08 L118.67,131.66 L118.93,131.24 L119.20,130.82 L119.46,130.41 L119.73,129.99 L119.99,129.58 L120.25,129.17 L120.52,128.75 L120.78,128.34 L121.05,127.93 L121.31,127.52 L121.58,127.11 L121.84,126.71 L122.10,126.30 L122.37,125.89 L122.63,125.49 L122.90,125.09 L123.16,124.68 L123.43,124.28 L123.69,123.88 L123.95,123.48 L124.22,123.08 L124.48,122.68 L124.75,122.28 L125.01,121.89 L125.28,121.49 L125.54,121.10 L125.80,120.71 L126.07,120.31 L126.33,119.92 L126.60,119.53 L126.86,119.14 L127.13,118.75 L127.39,118.37 L127.66,117.98 L127.92,117.60 L128.18,117.21 L128.45,116.83 L128.71,116.45 L128.98,116.07 L129.24,115.69 L129.51,115.31 L129.77,114.93 L130.03,114.55 L130.30,114.18 L130.56,113.80 L130.83,113.43 L131.09,113.06 L131.36,112.69 L131.62,112.32 L131.88,111.95 L132.15,111.58 L132.41,111.21 L132.68,110.85 L132.94,110.48 L133.21,110.12 L133.47,109.76 L133.73,109.40 L134.00,109.04 L134.26,108.68 L134.53,108.32 L134.79,107.96 L135.06,107.61 L135.32,107.25 L135.58,106.90 L135.85,106.55 L136.11,106.19 L136.38,105.84 L136.64,105.49 L136.91,105.15 L137.17,104.80 L137.44,104.45 L137.70,104.11 L137.96,103.77 L138.23,103.42 L138.49,103.08 L138.76,102.74 L139.02,102.40 L139.29,102.07 L139.55,101.73 L139.81,101.39 L140.08,101.06 L140.34,100.73 L140.61,100.39 L140.87,100.06 L141.14,99.73 L141.40,99.40 L141.66,99.07 L141.93,98.75 L142.19,98.42 L142.46,98.10 L142.72,97.77 L142.99,97.45 L143.25,97.13 L143.51,96.81 L143.78,96.49 L144.04,96.17 L144.31,95.86 L144.57,95.54 L144.84,95.23 L145.10,94.91 L145.36,94.60 L145.63,94.29 L145.89,93.98 L146.16,93.67 L146.42,93.36 L146.69,93.06 L146.95,92.75 L147.22,92.45 L147.48,92.14 L147.74,91.84 L148.01,91.54 L148.27,91.24 L148.54,90.94 L148.80,90.64 L149.07,90.34 L149.33,90.05 L149.59,89.75 L149.86,89.46 L150.12,89.17 L150.39,88.88 L150.65,88.58 L150.92,88.29 L151.18,88.01 L151.44,87.72 L151.71,87.43 L151.97,87.15 L152.24,86.86 L152.50,86.58 L152.77,86.30 L153.03,86.02 L153.29,85.74 L153.56,85.46 L153.82,85.18 L154.09,84.90 L154.35,84.63 L154.62,84.35 L154.88,84.08 L155.14,83.80 L155.41,83.53 L155.67,83.26 L155.94,82.99 L156.20,82.72 L156.47,82.45 L156.73,82.19 L157.00,81.92 L157.26,81.66 L157.52,81.39 L157.79,81.13 L158.05,80.87 L158.32,80.61 L158.58,80.35 L158.85,80.09 L159.11,79.83 L159.37,79.57 L159.64,79.32 L159.90,79.06 L160.17,78.81 L160.43,78.56 L160.70,78.30 L160.96,78.05 L161.22,77.80 L161.49,77.55 L161.75,77.31 L162.02,77.06 L162.28,76.81 L162.55,76.57 L162.81,76.32 L163.07,76.08 L163.34,75.84 L163.60,75.59 L163.87,75.35 L164.13,75.11 L164.40,74.88 L164.66,74.64 L164.92,74.40 L165.19,74.16 L165.45,73.93 L165.72,73.70 L165.98,73.46 L166.25,73.23 L166.51,73.00 L166.78,72.77 L167.04,72.54 L167.30,72.31 L167.57,72.08 L167.83,71.85 L168.10,71.63 L168.36,71.40 L168.63,71.18 L168.89,70.95 L169.15,70.73 L169.42,70.51 L169.68,70.29 L169.95,70.07 L170.21,69.85 L170.48,69.63 L170.74,69.41 L171.00,69.20 L171.27,68.98 L171.53,68.76 L171.80,68.55 L172.06,68.34 L172.33,68.12 L172.59,67.91 L172.85,67.70 L173.12,67.49 L173.38,67.28 L173.65,67.07 L173.91,66.87 L174.18,66.66 L174.44,66.45 L174.70,66.25 L174.97,66.04 L175.23,65.84 L175.50,65.64 L175.76,65.43 L176.03,65.23 L176.29,65.03 L176.56,64.83 L176.82,64.63 L177.08,64.44 L177.35,64.24 L177.61,64.04 L177.88,63.85 L178.14,63.65 L178.41,63.46 L178.67,63.26 L178.93,63.07 L179.20,62.88 L179.46,62.69 L179.73,62.50 L179.99,62.31 L180.26,62.12 L180.52,61.93 L180.78,61.74 L181.05,61.55 L181.31,61.37 L181.58,61.18 L181.84,61.00 L182.11,60.81 L182.37,60.63 L182.63,60.45 L182.90,60.27 L183.16,60.09 L183.43,59.90 L183.69,59.73 L183.96,59.55 L184.22,59.37 L184.48,59.19 L184.75,59.01 L185.01,58.84 L185.28,58.66 L185.54,58.49 L185.81,58.31 L186.07,58.14 L186.34,57.97 L186.60,57.79 L186.86,57.62 L187.13,57.45 L187.39,57.28 L187.66,57.11 L187.92,56.94 L188.19,56.77 L188.45,56.61 L188.71,56.44 L188.98,56.27 L189.24,56.11 L189.51,55.94 L189.77,55.78 L190.04,55.61 L190.30,55.45 L190.56,55.29 L190.83,55.13 L191.09,54.97 L191.36,54.81 L191.62,54.65 L191.89,54.49 L192.15,54.33 L192.41,54.17 L192.68,54.01 L192.94,53.86 L193.21,53.70 L193.47,53.54 L193.74,53.39 L194.00,53.23 L194.26,53.08 L194.53,52.93 L194.79,52.77 L195.06,52.62 L195.32,52.47 L195.59,52.32 L195.85,52.17 L196.12,52.02 L196.38,51.87 L196.64,51.72 L196.91,51.57 L197.17,51.43 L197.44,51.28 L197.70,51.13 L197.97,50.99 L198.23,50.84 L198.49,50.70 L198.76,50.55 L199.02,50.41 L199.29,50.27 L199.55,50.12 L199.82,49.98 L200.08,49.84 L200.34,49.70 L200.61,49.56 L200.87,49.42 L201.14,49.28 L201.40,49.14 L201.67,49.00 L201.93,48.86 L202.19,48.73 L202.46,48.59 L202.72,48.45 L202.99,48.32 L203.25,48.18 L203.52,48.05 L203.78,47.91 L204.04,47.78 L204.31,47.65 L204.57,47.52 L204.84,47.38 L205.10,47.25 L205.37,47.12 L205.63,46.99 L205.90,46.86 L206.16,46.73 L206.42,46.60 L206.69,46.47 L206.95,46.34 L207.22,46.22 L207.48,46.09 L207.75,45.96 L208.01,45.84 L208.27,45.71 L208.54,45.59 L208.80,45.46 L209.07,45.34 L209.33,45.21 L209.60,45.09 L209.86,44.97 L210.12,44.84 L210.39,44.72 L210.65,44.60 L210.92,44.48 L211.18,44.36 L211.45,44.24 L211.71,44.12 L211.97,44.00 L212.24,43.88 L212.50,43.76 L212.77,43.64 L213.03,43.53 L213.30,43.41 L213.56,43.29 L213.82,43.18 L214.09,43.06 L214.35,42.94 L214.62,42.83 L214.88,42.71 L215.15,42.60 L215.41,42.49 L215.68,42.37 L215.94,42.26 L216.20,42.15 L216.47,42.04 L216.73,41.92 L217.00,41.81 L217.26,41.70 L217.53,41.59 L217.79,41.48 L218.05,41.37 L218.32,41.26 L218.58,41.15 L218.85,41.05 L219.11,40.94 L219.38,40.83 L219.64,40.72 L219.90,40.62 L220.17,40.51 L220.43,40.40 L220.70,40.30 L220.96,40.19 L221.23,40.09 L221.49,39.98 L221.75,39.88 L222.02,39.77 L222.28,39.67 L222.55,39.57 L222.81,39.47 L223.08,39.36 L223.34,39.26 L223.60,39.16 L223.87,39.06 L224.13,38.96 L224.40,38.86 L224.66,38.76 L224.93,38.66 L225.19,38.56 L225.46,38.46 L225.72,38.36 L225.98,38.26 L226.25,38.16 L226.51,38.07 L226.78,37.97 L227.04,37.87 L227.31,37.78 L227.57,37.68 L227.83,37.58 L228.10,37.49 L228.36,37.39 L228.63,37.30 L228.89,37.20 L229.16,37.11 L229.42,37.02 L229.68,36.92 L229.95,36.83 L230.21,36.74 L230.48,36.64 L230.74,36.55 L231.01,36.46 L231.27,36.37 L231.53,36.28 L231.80,36.19 L232.06,36.10 L232.33,36.01 L232.59,35.92 L232.86,35.83 L233.12,35.74 L233.38,35.65 L233.65,35.56 L233.91,35.47 L234.18,35.38 L234.44,35.29 L234.71,35.21 L234.97,35.12 L235.24,35.03 L235.50,34.95 L235.76,34.86 L236.03,34.77 L236.29,34.69 L236.56,34.60 L236.82,34.52 L237.09,34.43 L237.35,34.35 L237.61,34.27 L237.88,34.18 L238.14,34.10 L238.41,34.01 L238.67,33.93 L238.94,33.85 L239.20,33.77" fill="none" stroke="#646464" stroke-width="1.0" stroke-dasharray="1.2 2.3"/>
<rect x="33.8" y="1.5" width="215.3" height="214.9" fill="none" stroke="#1a1a1a" stroke-width="1.2"/>
<line x1="54.40" y1="216.40" x2="54.40" y2="212.40" stroke="#1a1a1a" stroke-width="1.1"/>
<line x1="54.40" y1="1.50" x2="54.40" y2="5.50" stroke="#1a1a1a" stroke-width="1.1"/>
<text x="54.70" y="229.60" font-size="11.2" text-anchor="middle" font-weight="normal" >0</text>
<line x1="72.95" y1="216.40" x2="72.95" y2="214.20" stroke="#1a1a1a" stroke-width="1.1"/>
<line x1="72.95" y1="1.50" x2="72.95" y2="3.70" stroke="#1a1a1a" stroke-width="1.1"/>
<line x1="91.50" y1="216.40" x2="91.50" y2="212.40" stroke="#1a1a1a" stroke-width="1.1"/>
<line x1="91.50" y1="1.50" x2="91.50" y2="5.50" stroke="#1a1a1a" stroke-width="1.1"/>
<text x="91.80" y="229.60" font-size="11.2" text-anchor="middle" font-weight="normal" >2</text>
<line x1="110.05" y1="216.40" x2="110.05" y2="214.20" stroke="#1a1a1a" stroke-width="1.1"/>
<line x1="110.05" y1="1.50" x2="110.05" y2="3.70" stroke="#1a1a1a" stroke-width="1.1"/>
<line x1="128.60" y1="216.40" x2="128.60" y2="212.40" stroke="#1a1a1a" stroke-width="1.1"/>
<line x1="128.60" y1="1.50" x2="128.60" y2="5.50" stroke="#1a1a1a" stroke-width="1.1"/>
<text x="128.90" y="229.60" font-size="11.2" text-anchor="middle" font-weight="normal" >4</text>
<line x1="147.15" y1="216.40" x2="147.15" y2="214.20" stroke="#1a1a1a" stroke-width="1.1"/>
<line x1="147.15" y1="1.50" x2="147.15" y2="3.70" stroke="#1a1a1a" stroke-width="1.1"/>
<line x1="165.70" y1="216.40" x2="165.70" y2="212.40" stroke="#1a1a1a" stroke-width="1.1"/>
<line x1="165.70" y1="1.50" x2="165.70" y2="5.50" stroke="#1a1a1a" stroke-width="1.1"/>
<text x="166.00" y="229.60" font-size="11.2" text-anchor="middle" font-weight="normal" >6</text>
<line x1="184.25" y1="216.40" x2="184.25" y2="214.20" stroke="#1a1a1a" stroke-width="1.1"/>
<line x1="184.25" y1="1.50" x2="184.25" y2="3.70" stroke="#1a1a1a" stroke-width="1.1"/>
<line x1="202.80" y1="216.40" x2="202.80" y2="212.40" stroke="#1a1a1a" stroke-width="1.1"/>
<line x1="202.80" y1="1.50" x2="202.80" y2="5.50" stroke="#1a1a1a" stroke-width="1.1"/>
<text x="203.10" y="229.60" font-size="11.2" text-anchor="middle" font-weight="normal" >8</text>
<line x1="221.35" y1="216.40" x2="221.35" y2="214.20" stroke="#1a1a1a" stroke-width="1.1"/>
<line x1="221.35" y1="1.50" x2="221.35" y2="3.70" stroke="#1a1a1a" stroke-width="1.1"/>
<line x1="239.90" y1="216.40" x2="239.90" y2="212.40" stroke="#1a1a1a" stroke-width="1.1"/>
<line x1="239.90" y1="1.50" x2="239.90" y2="5.50" stroke="#1a1a1a" stroke-width="1.1"/>
<text x="240.20" y="229.60" font-size="11.2" text-anchor="middle" font-weight="normal" >10</text>
<line x1="33.80" y1="209.80" x2="37.80" y2="209.80" stroke="#1a1a1a" stroke-width="1.1"/>
<line x1="249.10" y1="209.80" x2="245.10" y2="209.80" stroke="#1a1a1a" stroke-width="1.1"/>
<text x="31.20" y="213.40" font-size="11.2" text-anchor="end" font-weight="normal" >0.0</text>
<line x1="33.80" y1="190.27" x2="36.00" y2="190.27" stroke="#1a1a1a" stroke-width="1.1"/>
<line x1="249.10" y1="190.27" x2="246.90" y2="190.27" stroke="#1a1a1a" stroke-width="1.1"/>
<line x1="33.80" y1="170.74" x2="37.80" y2="170.74" stroke="#1a1a1a" stroke-width="1.1"/>
<line x1="249.10" y1="170.74" x2="245.10" y2="170.74" stroke="#1a1a1a" stroke-width="1.1"/>
<text x="31.20" y="174.34" font-size="11.2" text-anchor="end" font-weight="normal" >0.2</text>
<line x1="33.80" y1="151.21" x2="36.00" y2="151.21" stroke="#1a1a1a" stroke-width="1.1"/>
<line x1="249.10" y1="151.21" x2="246.90" y2="151.21" stroke="#1a1a1a" stroke-width="1.1"/>
<line x1="33.80" y1="131.68" x2="37.80" y2="131.68" stroke="#1a1a1a" stroke-width="1.1"/>
<line x1="249.10" y1="131.68" x2="245.10" y2="131.68" stroke="#1a1a1a" stroke-width="1.1"/>
<text x="31.20" y="135.28" font-size="11.2" text-anchor="end" font-weight="normal" >0.4</text>
<line x1="33.80" y1="112.15" x2="36.00" y2="112.15" stroke="#1a1a1a" stroke-width="1.1"/>
<line x1="249.10" y1="112.15" x2="246.90" y2="112.15" stroke="#1a1a1a" stroke-width="1.1"/>
<line x1="33.80" y1="92.62" x2="37.80" y2="92.62" stroke="#1a1a1a" stroke-width="1.1"/>
<line x1="249.10" y1="92.62" x2="245.10" y2="92.62" stroke="#1a1a1a" stroke-width="1.1"/>
<text x="31.20" y="96.22" font-size="11.2" text-anchor="end" font-weight="normal" >0.6</text>
<line x1="33.80" y1="73.09" x2="36.00" y2="73.09" stroke="#1a1a1a" stroke-width="1.1"/>
<line x1="249.10" y1="73.09" x2="246.90" y2="73.09" stroke="#1a1a1a" stroke-width="1.1"/>
<line x1="33.80" y1="53.56" x2="37.80" y2="53.56" stroke="#1a1a1a" stroke-width="1.1"/>
<line x1="249.10" y1="53.56" x2="245.10" y2="53.56" stroke="#1a1a1a" stroke-width="1.1"/>
<text x="31.20" y="57.16" font-size="11.2" text-anchor="end" font-weight="normal" >0.8</text>
<line x1="33.80" y1="34.03" x2="36.00" y2="34.03" stroke="#1a1a1a" stroke-width="1.1"/>
<line x1="249.10" y1="34.03" x2="246.90" y2="34.03" stroke="#1a1a1a" stroke-width="1.1"/>
<line x1="33.80" y1="14.50" x2="37.80" y2="14.50" stroke="#1a1a1a" stroke-width="1.1"/>
<line x1="249.10" y1="14.50" x2="245.10" y2="14.50" stroke="#1a1a1a" stroke-width="1.1"/>
<text x="31.20" y="18.10" font-size="11.2" text-anchor="end" font-weight="normal" >1.0</text>
<path d="M305.60,192.06 L305.89,192.01 L306.18,191.96 L306.47,191.92 L306.76,191.87 L307.06,191.82 L307.35,191.78 L307.64,191.73 L307.93,191.68 L308.22,191.63 L308.51,191.58 L308.80,191.53 L309.09,191.48 L309.38,191.43 L309.68,191.38 L309.97,191.33 L310.26,191.28 L310.55,191.22 L310.84,191.17 L311.13,191.12 L311.42,191.07 L311.71,191.01 L312.00,190.96 L312.30,190.90 L312.59,190.85 L312.88,190.79 L313.17,190.73 L313.46,190.68 L313.75,190.62 L314.04,190.56 L314.33,190.50 L314.63,190.44 L314.92,190.38 L315.21,190.32 L315.50,190.26 L315.79,190.20 L316.08,190.14 L316.37,190.08 L316.66,190.01 L316.95,189.95 L317.25,189.89 L317.54,189.82 L317.83,189.76 L318.12,189.69 L318.41,189.63 L318.70,189.56 L318.99,189.49 L319.28,189.42 L319.57,189.36 L319.87,189.29 L320.16,189.22 L320.45,189.15 L320.74,189.08 L321.03,189.01 L321.32,188.93 L321.61,188.86 L321.90,188.79 L322.19,188.72 L322.49,188.64 L322.78,188.57 L323.07,188.49 L323.36,188.41 L323.65,188.34 L323.94,188.26 L324.23,188.18 L324.52,188.10 L324.81,188.02 L325.11,187.94 L325.40,187.86 L325.69,187.78 L325.98,187.70 L326.27,187.62 L326.56,187.53 L326.85,187.45 L327.14,187.36 L327.43,187.28 L327.73,187.19 L328.02,187.10 L328.31,187.02 L328.60,186.93 L328.89,186.84 L329.18,186.75 L329.47,186.66 L329.76,186.57 L330.05,186.47 L330.35,186.38 L330.64,186.29 L330.93,186.19 L331.22,186.10 L331.51,186.00 L331.80,185.90 L332.09,185.81 L332.38,185.71 L332.68,185.61 L332.97,185.51 L333.26,185.41 L333.55,185.31 L333.84,185.20 L334.13,185.10 L334.42,185.00 L334.71,184.89 L335.00,184.78 L335.30,184.68 L335.59,184.57 L335.88,184.46 L336.17,184.35 L336.46,184.24 L336.75,184.13 L337.04,184.02 L337.33,183.91 L337.62,183.79 L337.92,183.68 L338.21,183.56 L338.50,183.45 L338.79,183.33 L339.08,183.21 L339.37,183.09 L339.66,182.97 L339.95,182.85 L340.24,182.73 L340.54,182.60 L340.83,182.48 L341.12,182.35 L341.41,182.23 L341.70,182.10 L341.99,181.97 L342.28,181.84 L342.57,181.71 L342.86,181.58 L343.16,181.45 L343.45,181.32 L343.74,181.18 L344.03,181.05 L344.32,180.91 L344.61,180.77 L344.90,180.64 L345.19,180.50 L345.48,180.36 L345.78,180.22 L346.07,180.07 L346.36,179.93 L346.65,179.78 L346.94,179.64 L347.23,179.49 L347.52,179.34 L347.81,179.19 L348.11,179.04 L348.40,178.89 L348.69,178.74 L348.98,178.59 L349.27,178.43 L349.56,178.28 L349.85,178.12 L350.14,177.96 L350.43,177.80 L350.73,177.64 L351.02,177.48 L351.31,177.32 L351.60,177.15 L351.89,176.99 L352.18,176.82 L352.47,176.65 L352.76,176.48 L353.05,176.31 L353.35,176.14 L353.64,175.97 L353.93,175.79 L354.22,175.62 L354.51,175.44 L354.80,175.27 L355.09,175.09 L355.38,174.91 L355.67,174.72 L355.97,174.54 L356.26,174.36 L356.55,174.17 L356.84,173.99 L357.13,173.80 L357.42,173.61 L357.71,173.42 L358.00,173.23 L358.29,173.03 L358.59,172.84 L358.88,172.64 L359.17,172.45 L359.46,172.25 L359.75,172.05 L360.04,171.85 L360.33,171.64 L360.62,171.44 L360.91,171.23 L361.21,171.03 L361.50,170.82 L361.79,170.61 L362.08,170.40 L362.37,170.18 L362.66,169.97 L362.95,169.76 L363.24,169.54 L363.53,169.32 L363.83,169.10 L364.12,168.88 L364.41,168.66 L364.70,168.43 L364.99,168.21 L365.28,167.98 L365.57,167.75 L365.86,167.53 L366.16,167.29 L366.45,167.06 L366.74,166.83 L367.03,166.59 L367.32,166.36 L367.61,166.12 L367.90,165.88 L368.19,165.64 L368.48,165.39 L368.78,165.15 L369.07,164.90 L369.36,164.66 L369.65,164.41 L369.94,164.16 L370.23,163.90 L370.52,163.65 L370.81,163.40 L371.10,163.14 L371.40,162.88 L371.69,162.62 L371.98,162.36 L372.27,162.10 L372.56,161.84 L372.85,161.57 L373.14,161.30 L373.43,161.03 L373.72,160.76 L374.02,160.49 L374.31,160.22 L374.60,159.94 L374.89,159.67 L375.18,159.39 L375.47,159.11 L375.76,158.83 L376.05,158.55 L376.34,158.26 L376.64,157.98 L376.93,157.69 L377.22,157.40 L377.51,157.11 L377.80,156.82 L378.09,156.53 L378.38,156.23 L378.67,155.94 L378.96,155.64 L379.26,155.34 L379.55,155.04 L379.84,154.74 L380.13,154.43 L380.42,154.13 L380.71,153.82 L381.00,153.51 L381.29,153.20 L381.58,152.89 L381.88,152.58 L382.17,152.26 L382.46,151.94 L382.75,151.63 L383.04,151.31 L383.33,150.99 L383.62,150.66 L383.91,150.34 L384.21,150.01 L384.50,149.69 L384.79,149.36 L385.08,149.03 L385.37,148.70 L385.66,148.37 L385.95,148.03 L386.24,147.69 L386.53,147.36 L386.83,147.02 L387.12,146.68 L387.41,146.34 L387.70,145.99 L387.99,145.65 L388.28,145.30 L388.57,144.96 L388.86,144.61 L389.15,144.26 L389.45,143.90 L389.74,143.55 L390.03,143.20 L390.32,142.84 L390.61,142.48 L390.90,142.12 L391.19,141.76 L391.48,141.40 L391.77,141.04 L392.07,140.68 L392.36,140.31 L392.65,139.94 L392.94,139.57 L393.23,139.20 L393.52,138.83 L393.81,138.46 L394.10,138.09 L394.39,137.71 L394.69,137.34 L394.98,136.96 L395.27,136.58 L395.56,136.20 L395.85,135.82 L396.14,135.44 L396.43,135.05 L396.72,134.67 L397.01,134.28 L397.31,133.90 L397.60,133.51 L397.89,133.12 L398.18,132.73 L398.47,132.34 L398.76,131.94 L399.05,131.55 L399.34,131.15 L399.64,130.76 L399.93,130.36 L400.22,129.96 L400.51,129.56 L400.80,129.16 L401.09,128.76 L401.38,128.36 L401.67,127.95 L401.96,127.55 L402.26,127.14 L402.55,126.74 L402.84,126.33 L403.13,125.92 L403.42,125.51 L403.71,125.10 L404.00,124.69 L404.29,124.28 L404.58,123.87 L404.88,123.45 L405.17,123.04 L405.46,122.62 L405.75,122.21 L406.04,121.79 L406.33,121.37 L406.62,120.95 L406.91,120.54 L407.20,120.12 L407.50,119.70 L407.79,119.27 L408.08,118.85 L408.37,118.43 L408.66,118.01 L408.95,117.58 L409.24,117.16 L409.53,116.73 L409.82,116.31 L410.12,115.88 L410.41,115.45 L410.70,115.03 L410.99,114.60 L411.28,114.17 L411.57,113.74 L411.86,113.31 L412.15,112.88 L412.44,112.45 L412.74,112.02 L413.03,111.59 L413.32,111.16 L413.61,110.73 L413.90,110.30 L414.19,109.87 L414.48,109.43 L414.77,109.00 L415.06,108.57 L415.36,108.14 L415.65,107.70 L415.94,107.27 L416.23,106.84 L416.52,106.40 L416.81,105.97 L417.10,105.53 L417.39,105.10 L417.69,104.66 L417.98,104.23 L418.27,103.80 L418.56,103.36 L418.85,102.93 L419.14,102.49 L419.43,102.06 L419.72,101.62 L420.01,101.19 L420.31,100.76 L420.60,100.32 L420.89,99.89 L421.18,99.45 L421.47,99.02 L421.76,98.59 L422.05,98.15 L422.34,97.72 L422.63,97.29 L422.93,96.85 L423.22,96.42 L423.51,95.99 L423.80,95.56 L424.09,95.13 L424.38,94.69 L424.67,94.26 L424.96,93.83 L425.25,93.40 L425.55,92.97 L425.84,92.54 L426.13,92.11 L426.42,91.69 L426.71,91.26 L427.00,90.83 L427.29,90.40 L427.58,89.98 L427.87,89.55 L428.17,89.13 L428.46,88.70 L428.75,88.28 L429.04,87.85 L429.33,87.43 L429.62,87.01 L429.91,86.59 L430.20,86.17 L430.49,85.75 L430.79,85.33 L431.08,84.91 L431.37,84.49 L431.66,84.07 L431.95,83.66 L432.24,83.24 L432.53,82.83 L432.82,82.41 L433.12,82.00 L433.41,81.59 L433.70,81.18 L433.99,80.77 L434.28,80.36 L434.57,79.95 L434.86,79.54 L435.15,79.13 L435.44,78.73 L435.74,78.32 L436.03,77.92 L436.32,77.51 L436.61,77.11 L436.90,76.71 L437.19,76.31 L437.48,75.91 L437.77,75.52 L438.06,75.12 L438.36,74.72 L438.65,74.33 L438.94,73.93 L439.23,73.54 L439.52,73.15 L439.81,72.76 L440.10,72.37 L440.39,71.98 L440.68,71.60 L440.98,71.21 L441.27,70.83 L441.56,70.45 L441.85,70.06 L442.14,69.68 L442.43,69.30 L442.72,68.93 L443.01,68.55 L443.30,68.17 L443.60,67.80 L443.89,67.43 L444.18,67.06 L444.47,66.69 L444.76,66.32 L445.05,65.95 L445.34,65.58 L445.63,65.22 L445.92,64.86 L446.22,64.49 L446.51,64.13 L446.80,63.77 L447.09,63.41 L447.38,63.06 L447.67,62.70 L447.96,62.35 L448.25,62.00 L448.54,61.65 L448.84,61.30 L449.13,60.95 L449.42,60.60 L449.71,60.26 L450.00,59.91 L450.29,59.57 L450.58,59.23 L450.87,58.89 L451.17,58.55 L451.46,58.22 L451.75,57.88 L452.04,57.55 L452.33,57.21 L452.62,56.88 L452.91,56.56 L453.20,56.23 L453.49,55.90 L453.79,55.58 L454.08,55.25 L454.37,54.93 L454.66,54.61 L454.95,54.29 L455.24,53.98 L455.53,53.66 L455.82,53.35 L456.11,53.04 L456.41,52.72 L456.70,52.42 L456.99,52.11 L457.28,51.80 L457.57,51.50 L457.86,51.19 L458.15,50.89 L458.44,50.59 L458.73,50.29 L459.03,50.00 L459.32,49.70 L459.61,49.41 L459.90,49.11 L460.19,48.82 L460.48,48.53 L460.77,48.25 L461.06,47.96 L461.35,47.68 L461.65,47.39 L461.94,47.11 L462.23,46.83 L462.52,46.55 L462.81,46.28 L463.10,46.00 L463.39,45.73 L463.68,45.45 L463.97,45.18 L464.27,44.91 L464.56,44.65 L464.85,44.38 L465.14,44.12 L465.43,43.85 L465.72,43.59 L466.01,43.33 L466.30,43.07 L466.59,42.82 L466.89,42.56 L467.18,42.31 L467.47,42.05 L467.76,41.80 L468.05,41.55 L468.34,41.30 L468.63,41.06 L468.92,40.81 L469.22,40.57 L469.51,40.33 L469.80,40.09 L470.09,39.85 L470.38,39.61 L470.67,39.37 L470.96,39.14 L471.25,38.91 L471.54,38.68 L471.84,38.45 L472.13,38.22 L472.42,37.99 L472.71,37.76 L473.00,37.54 L473.29,37.32 L473.58,37.09 L473.87,36.87 L474.16,36.66 L474.46,36.44 L474.75,36.22 L475.04,36.01 L475.33,35.80 L475.62,35.58 L475.91,35.37 L476.20,35.16 L476.49,34.96 L476.78,34.75 L477.08,34.55 L477.37,34.34 L477.66,34.14 L477.95,33.94 L478.24,33.74 L478.53,33.54 L478.82,33.35 L479.11,33.15 L479.40,32.96 L479.70,32.77 L479.99,32.57 L480.28,32.38 L480.57,32.20 L480.86,32.01 L481.15,31.82 L481.44,31.64 L481.73,31.45 L482.02,31.27 L482.32,31.09 L482.61,30.91 L482.90,30.73 L483.19,30.56 L483.48,30.38 L483.77,30.21 L484.06,30.03 L484.35,29.86 L484.65,29.69 L484.94,29.52 L485.23,29.35 L485.52,29.19 L485.81,29.02 L486.10,28.86 L486.39,28.69 L486.68,28.53 L486.97,28.37 L487.27,28.21 L487.56,28.05 L487.85,27.89 L488.14,27.74 L488.43,27.58 L488.72,27.43 L489.01,27.27 L489.30,27.12 L489.59,26.97 L489.89,26.82 L490.18,26.67 L490.47,26.53 L490.76,26.38 L491.05,26.23 L491.34,26.09 L491.63,25.95 L491.92,25.80 L492.21,25.66 L492.51,25.52 L492.80,25.39 L493.09,25.25 L493.38,25.11 L493.67,24.98 L493.96,24.84 L494.25,24.71 L494.54,24.58 L494.83,24.44 L495.13,24.31 L495.42,24.18 L495.71,24.06 L496.00,23.93 L496.29,23.80 L496.58,23.68 L496.87,23.55 L497.16,23.43 L497.45,23.31 L497.75,23.18 L498.04,23.06 L498.33,22.94 L498.62,22.82 L498.91,22.71 L499.20,22.59 L499.49,22.47 L499.78,22.36 L500.07,22.24 L500.37,22.13 L500.66,22.02 L500.95,21.91 L501.24,21.80 L501.53,21.69 L501.82,21.58 L502.11,21.47 L502.40,21.36 L502.70,21.26 L502.99,21.15 L503.28,21.05 L503.57,20.94 L503.86,20.84 L504.15,20.74 L504.44,20.64 L504.73,20.54 L505.02,20.44 L505.32,20.34 L505.61,20.24 L505.90,20.14 L506.19,20.05 L506.48,19.95 L506.77,19.85 L507.06,19.76 L507.35,19.67 L507.64,19.57 L507.94,19.48 L508.23,19.39 L508.52,19.30 L508.81,19.21 L509.10,19.12" fill="none" stroke="#646464" stroke-width="1.0" stroke-dasharray="1.2 2.3"/>
<path d="M305.60,196.92 L305.89,196.92 L306.17,196.92 L306.46,196.91 L306.74,196.91 L307.03,196.91 L307.31,196.90 L307.60,196.90 L307.88,196.90 L308.17,196.90 L308.45,196.89 L308.74,196.89 L309.02,196.89 L309.31,196.88 L309.59,196.88 L309.88,196.88 L310.16,196.87 L310.45,196.87 L310.73,196.87 L311.02,196.86 L311.31,196.86 L311.59,196.86 L311.88,196.85 L312.16,196.85 L312.45,196.84 L312.73,196.84 L313.02,196.84 L313.30,196.83 L313.59,196.83 L313.87,196.82 L314.16,196.82 L314.44,196.82 L314.73,196.81 L315.01,196.81 L315.30,196.80 L315.58,196.80 L315.87,196.79 L316.15,196.79 L316.44,196.78 L316.73,196.78 L317.01,196.78 L317.30,196.77 L317.58,196.77 L317.87,196.76 L318.15,196.76 L318.44,196.75 L318.72,196.74 L319.01,196.74 L319.29,196.73 L319.58,196.73 L319.86,196.72 L320.15,196.72 L320.43,196.71 L320.72,196.71 L321.00,196.70 L321.29,196.69 L321.57,196.69 L321.86,196.68 L322.15,196.67 L322.43,196.67 L322.72,196.66 L323.00,196.66 L323.29,196.65 L323.57,196.64 L323.86,196.64 L324.14,196.63 L324.43,196.62 L324.71,196.61 L325.00,196.61 L325.28,196.60 L325.57,196.59 L325.85,196.58 L326.14,196.58 L326.42,196.57 L326.71,196.56 L326.99,196.55 L327.28,196.54 L327.57,196.54 L327.85,196.53 L328.14,196.52 L328.42,196.51 L328.71,196.50 L328.99,196.49 L329.28,196.48 L329.56,196.47 L329.85,196.46 L330.13,196.45 L330.42,196.44 L330.70,196.43 L330.99,196.42 L331.27,196.41 L331.56,196.40 L331.84,196.39 L332.13,196.38 L332.41,196.37 L332.70,196.36 L332.99,196.35 L333.27,196.34 L333.56,196.33 L333.84,196.32 L334.13,196.30 L334.41,196.29 L334.70,196.28 L334.98,196.27 L335.27,196.26 L335.55,196.24 L335.84,196.23 L336.12,196.22 L336.41,196.20 L336.69,196.19 L336.98,196.18 L337.26,196.16 L337.55,196.15 L337.83,196.13 L338.12,196.12 L338.41,196.10 L338.69,196.09 L338.98,196.07 L339.26,196.06 L339.55,196.04 L339.83,196.03 L340.12,196.01 L340.40,196.00 L340.69,195.98 L340.97,195.96 L341.26,195.95 L341.54,195.93 L341.83,195.91 L342.11,195.89 L342.40,195.87 L342.68,195.86 L342.97,195.84 L343.25,195.82 L343.54,195.80 L343.83,195.78 L344.11,195.76 L344.40,195.74 L344.68,195.72 L344.97,195.70 L345.25,195.68 L345.54,195.66 L345.82,195.64 L346.11,195.61 L346.39,195.59 L346.68,195.57 L346.96,195.55 L347.25,195.52 L347.53,195.50 L347.82,195.47 L348.10,195.45 L348.39,195.43 L348.67,195.40 L348.96,195.38 L349.25,195.35 L349.53,195.32 L349.82,195.30 L350.10,195.27 L350.39,195.24 L350.67,195.21 L350.96,195.19 L351.24,195.16 L351.53,195.13 L351.81,195.10 L352.10,195.07 L352.38,195.04 L352.67,195.01 L352.95,194.98 L353.24,194.95 L353.52,194.91 L353.81,194.88 L354.09,194.85 L354.38,194.81 L354.67,194.78 L354.95,194.75 L355.24,194.71 L355.52,194.68 L355.81,194.64 L356.09,194.60 L356.38,194.57 L356.66,194.53 L356.95,194.49 L357.23,194.45 L357.52,194.41 L357.80,194.37 L358.09,194.33 L358.37,194.29 L358.66,194.25 L358.94,194.21 L359.23,194.16 L359.52,194.12 L359.80,194.07 L360.09,194.03 L360.37,193.98 L360.66,193.94 L360.94,193.89 L361.23,193.84 L361.51,193.80 L361.80,193.75 L362.08,193.70 L362.37,193.65 L362.65,193.60 L362.94,193.54 L363.22,193.49 L363.51,193.44 L363.79,193.38 L364.08,193.33 L364.36,193.27 L364.65,193.22 L364.94,193.16 L365.22,193.10 L365.51,193.04 L365.79,192.98 L366.08,192.92 L366.36,192.86 L366.65,192.80 L366.93,192.73 L367.22,192.67 L367.50,192.60 L367.79,192.54 L368.07,192.47 L368.36,192.40 L368.64,192.33 L368.93,192.26 L369.21,192.19 L369.50,192.12 L369.78,192.05 L370.07,191.97 L370.36,191.90 L370.64,191.82 L370.93,191.75 L371.21,191.67 L371.50,191.59 L371.78,191.51 L372.07,191.42 L372.35,191.34 L372.64,191.26 L372.92,191.17 L373.21,191.09 L373.49,191.00 L373.78,190.91 L374.06,190.82 L374.35,190.73 L374.63,190.64 L374.92,190.54 L375.20,190.45 L375.49,190.35 L375.78,190.25 L376.06,190.15 L376.35,190.05 L376.63,189.95 L376.92,189.85 L377.20,189.74 L377.49,189.63 L377.77,189.53 L378.06,189.42 L378.34,189.31 L378.63,189.19 L378.91,189.08 L379.20,188.96 L379.48,188.85 L379.77,188.73 L380.05,188.61 L380.34,188.48 L380.62,188.36 L380.91,188.24 L381.20,188.11 L381.48,187.98 L381.77,187.85 L382.05,187.72 L382.34,187.58 L382.62,187.45 L382.91,187.31 L383.19,187.17 L383.48,187.03 L383.76,186.88 L384.05,186.74 L384.33,186.59 L384.62,186.44 L384.90,186.29 L385.19,186.14 L385.47,185.98 L385.76,185.82 L386.04,185.67 L386.33,185.50 L386.62,185.34 L386.90,185.17 L387.19,185.01 L387.47,184.84 L387.76,184.66 L388.04,184.49 L388.33,184.31 L388.61,184.13 L388.90,183.95 L389.18,183.77 L389.47,183.58 L389.75,183.39 L390.04,183.20 L390.32,183.01 L390.61,182.81 L390.89,182.61 L391.18,182.41 L391.46,182.21 L391.75,182.00 L392.04,181.80 L392.32,181.58 L392.61,181.37 L392.89,181.15 L393.18,180.93 L393.46,180.71 L393.75,180.49 L394.03,180.26 L394.32,180.03 L394.60,179.80 L394.89,179.56 L395.17,179.32 L395.46,179.08 L395.74,178.84 L396.03,178.59 L396.31,178.34 L396.60,178.09 L396.88,177.83 L397.17,177.57 L397.46,177.31 L397.74,177.04 L398.03,176.77 L398.31,176.50 L398.60,176.23 L398.88,175.95 L399.17,175.67 L399.45,175.38 L399.74,175.09 L400.02,174.80 L400.31,174.51 L400.59,174.21 L400.88,173.91 L401.16,173.60 L401.45,173.30 L401.73,172.98 L402.02,172.67 L402.30,172.35 L402.59,172.03 L402.88,171.70 L403.16,171.38 L403.45,171.04 L403.73,170.71 L404.02,170.37 L404.30,170.02 L404.59,169.68 L404.87,169.33 L405.16,168.97 L405.44,168.61 L405.73,168.25 L406.01,167.89 L406.30,167.52 L406.58,167.15 L406.87,166.77 L407.15,166.39 L407.44,166.01 L407.72,165.62 L408.01,165.23 L408.30,164.83 L408.58,164.43 L408.87,164.03 L409.15,163.62 L409.44,163.21 L409.72,162.80 L410.01,162.38 L410.29,161.96 L410.58,161.53 L410.86,161.10 L411.15,160.67 L411.43,160.23 L411.72,159.79 L412.00,159.34 L412.29,158.89 L412.57,158.44 L412.86,157.98 L413.14,157.52 L413.43,157.05 L413.72,156.58 L414.00,156.11 L414.29,155.63 L414.57,155.15 L414.86,154.67 L415.14,154.18 L415.43,153.69 L415.71,153.19 L416.00,152.69 L416.28,152.18 L416.57,151.68 L416.85,151.16 L417.14,150.65 L417.42,150.13 L417.71,149.61 L417.99,149.08 L418.28,148.55 L418.56,148.01 L418.85,147.48 L419.14,146.93 L419.42,146.39 L419.71,145.84 L419.99,145.29 L420.28,144.73 L420.56,144.17 L420.85,143.61 L421.13,143.04 L421.42,142.47 L421.70,141.90 L421.99,141.32 L422.27,140.74 L422.56,140.16 L422.84,139.57 L423.13,138.98 L423.41,138.39 L423.70,137.79 L423.98,137.19 L424.27,136.59 L424.56,135.99 L424.84,135.38 L425.13,134.77 L425.41,134.15 L425.70,133.54 L425.98,132.92 L426.27,132.29 L426.55,131.67 L426.84,131.04 L427.12,130.41 L427.41,129.78 L427.69,129.14 L427.98,128.51 L428.26,127.87 L428.55,127.22 L428.83,126.58 L429.12,125.93 L429.40,125.29 L429.69,124.63 L429.98,123.98 L430.26,123.33 L430.55,122.67 L430.83,122.01 L431.12,121.35 L431.40,120.69 L431.69,120.03 L431.97,119.36 L432.26,118.70 L432.54,118.03 L432.83,117.36 L433.11,116.69 L433.40,116.02 L433.68,115.35 L433.97,114.68 L434.25,114.00 L434.54,113.33 L434.82,112.65 L435.11,111.98 L435.40,111.30 L435.68,110.62 L435.97,109.95 L436.25,109.27 L436.54,108.59 L436.82,107.91 L437.11,107.23 L437.39,106.55 L437.68,105.88 L437.96,105.20 L438.25,104.52 L438.53,103.84 L438.82,103.16 L439.10,102.48 L439.39,101.81 L439.67,101.13 L439.96,100.45 L440.24,99.78 L440.53,99.10 L440.82,98.43 L441.10,97.76 L441.39,97.08 L441.67,96.41 L441.96,95.74 L442.24,95.07 L442.53,94.41 L442.81,93.74 L443.10,93.07 L443.38,92.41 L443.67,91.75 L443.95,91.09 L444.24,90.43 L444.52,89.77 L444.81,89.12 L445.09,88.47 L445.38,87.81 L445.66,87.17 L445.95,86.52 L446.24,85.87 L446.52,85.23 L446.81,84.59 L447.09,83.95 L447.38,83.32 L447.66,82.68 L447.95,82.05 L448.23,81.42 L448.52,80.80 L448.80,80.17 L449.09,79.55 L449.37,78.94 L449.66,78.32 L449.94,77.71 L450.23,77.10 L450.51,76.49 L450.80,75.89 L451.08,75.29 L451.37,74.69 L451.66,74.10 L451.94,73.51 L452.23,72.92 L452.51,72.34 L452.80,71.75 L453.08,71.18 L453.37,70.60 L453.65,70.03 L453.94,69.46 L454.22,68.90 L454.51,68.34 L454.79,67.78 L455.08,67.23 L455.36,66.68 L455.65,66.13 L455.93,65.59 L456.22,65.05 L456.51,64.51 L456.79,63.98 L457.08,63.45 L457.36,62.93 L457.65,62.41 L457.93,61.89 L458.22,61.38 L458.50,60.87 L458.79,60.36 L459.07,59.86 L459.36,59.37 L459.64,58.87 L459.93,58.38 L460.21,57.90 L460.50,57.41 L460.78,56.93 L461.07,56.46 L461.35,55.99 L461.64,55.52 L461.93,55.06 L462.21,54.60 L462.50,54.15 L462.78,53.70 L463.07,53.25 L463.35,52.81 L463.64,52.37 L463.92,51.93 L464.21,51.50 L464.49,51.07 L464.78,50.65 L465.06,50.23 L465.35,49.81 L465.63,49.40 L465.92,48.99 L466.20,48.59 L466.49,48.19 L466.77,47.79 L467.06,47.40 L467.35,47.01 L467.63,46.62 L467.92,46.24 L468.20,45.87 L468.49,45.49 L468.77,45.12 L469.06,44.76 L469.34,44.39 L469.63,44.03 L469.91,43.68 L470.20,43.33 L470.48,42.98 L470.77,42.63 L471.05,42.29 L471.34,41.96 L471.62,41.62 L471.91,41.29 L472.19,40.97 L472.48,40.64 L472.77,40.32 L473.05,40.01 L473.34,39.70 L473.62,39.39 L473.91,39.08 L474.19,38.78 L474.48,38.48 L474.76,38.18 L475.05,37.89 L475.33,37.60 L475.62,37.32 L475.90,37.03 L476.19,36.76 L476.47,36.48 L476.76,36.21 L477.04,35.94 L477.33,35.67 L477.61,35.41 L477.90,35.15 L478.19,34.89 L478.47,34.63 L478.76,34.38 L479.04,34.13 L479.33,33.89 L479.61,33.65 L479.90,33.41 L480.18,33.17 L480.47,32.94 L480.75,32.70 L481.04,32.48 L481.32,32.25 L481.61,32.03 L481.89,31.81 L482.18,31.59 L482.46,31.38 L482.75,31.16 L483.03,30.95 L483.32,30.75 L483.61,30.54 L483.89,30.34 L484.18,30.14 L484.46,29.95 L484.75,29.75 L485.03,29.56 L485.32,29.37 L485.60,29.18 L485.89,29.00 L486.17,28.82 L486.46,28.64 L486.74,28.46 L487.03,28.28 L487.31,28.11 L487.60,27.94 L487.88,27.77 L488.17,27.61 L488.45,27.44 L488.74,27.28 L489.03,27.12 L489.31,26.96 L489.60,26.80 L489.88,26.65 L490.17,26.50 L490.45,26.35 L490.74,26.20 L491.02,26.06 L491.31,25.91 L491.59,25.77 L491.88,25.63 L492.16,25.49 L492.45,25.35 L492.73,25.22 L493.02,25.09 L493.30,24.95 L493.59,24.83 L493.87,24.70 L494.16,24.57 L494.45,24.45 L494.73,24.32 L495.02,24.20 L495.30,24.08 L495.59,23.97 L495.87,23.85 L496.16,23.74 L496.44,23.62 L496.73,23.51 L497.01,23.40 L497.30,23.29 L497.58,23.19 L497.87,23.08 L498.15,22.98 L498.44,22.87 L498.72,22.77 L499.01,22.67 L499.29,22.57 L499.58,22.48 L499.87,22.38 L500.15,22.29 L500.44,22.19 L500.72,22.10 L501.01,22.01 L501.29,21.92 L501.58,21.83 L501.86,21.75 L502.15,21.66 L502.43,21.58 L502.72,21.49 L503.00,21.41 L503.29,21.33 L503.57,21.25 L503.86,21.17 L504.14,21.09 L504.43,21.02 L504.71,20.94 L505.00,20.87" fill="none" stroke="#646464" stroke-width="1.0" stroke-dasharray="1.2 2.3"/>
<path d="M305.60,197.09 L305.89,197.09 L306.18,197.09 L306.47,197.09 L306.76,197.09 L307.05,197.09 L307.34,197.09 L307.63,197.09 L307.93,197.09 L308.22,197.09 L308.51,197.09 L308.80,197.09 L309.09,197.08 L309.38,197.08 L309.67,197.08 L309.96,197.08 L310.25,197.08 L310.54,197.08 L310.83,197.08 L311.12,197.08 L311.41,197.08 L311.70,197.08 L312.00,197.08 L312.29,197.08 L312.58,197.08 L312.87,197.08 L313.16,197.08 L313.45,197.08 L313.74,197.08 L314.03,197.08 L314.32,197.08 L314.61,197.08 L314.90,197.08 L315.19,197.08 L315.48,197.08 L315.77,197.08 L316.07,197.08 L316.36,197.08 L316.65,197.08 L316.94,197.08 L317.23,197.08 L317.52,197.07 L317.81,197.07 L318.10,197.07 L318.39,197.07 L318.68,197.07 L318.97,197.07 L319.26,197.07 L319.55,197.07 L319.84,197.07 L320.14,197.07 L320.43,197.07 L320.72,197.07 L321.01,197.07 L321.30,197.07 L321.59,197.07 L321.88,197.07 L322.17,197.07 L322.46,197.07 L322.75,197.07 L323.04,197.06 L323.33,197.06 L323.62,197.06 L323.91,197.06 L324.20,197.06 L324.50,197.06 L324.79,197.06 L325.08,197.06 L325.37,197.06 L325.66,197.06 L325.95,197.06 L326.24,197.06 L326.53,197.06 L326.82,197.06 L327.11,197.05 L327.40,197.05 L327.69,197.05 L327.98,197.05 L328.27,197.05 L328.57,197.05 L328.86,197.05 L329.15,197.05 L329.44,197.05 L329.73,197.05 L330.02,197.05 L330.31,197.04 L330.60,197.04 L330.89,197.04 L331.18,197.04 L331.47,197.04 L331.76,197.04 L332.05,197.04 L332.34,197.04 L332.64,197.04 L332.93,197.04 L333.22,197.03 L333.51,197.03 L333.80,197.03 L334.09,197.03 L334.38,197.03 L334.67,197.03 L334.96,197.03 L335.25,197.03 L335.54,197.02 L335.83,197.02 L336.12,197.02 L336.41,197.02 L336.71,197.02 L337.00,197.02 L337.29,197.02 L337.58,197.01 L337.87,197.01 L338.16,197.01 L338.45,197.01 L338.74,197.01 L339.03,197.01 L339.32,197.00 L339.61,197.00 L339.90,197.00 L340.19,197.00 L340.48,197.00 L340.77,197.00 L341.07,196.99 L341.36,196.99 L341.65,196.99 L341.94,196.99 L342.23,196.99 L342.52,196.98 L342.81,196.98 L343.10,196.98 L343.39,196.98 L343.68,196.97 L343.97,196.97 L344.26,196.97 L344.55,196.97 L344.84,196.97 L345.14,196.96 L345.43,196.96 L345.72,196.96 L346.01,196.96 L346.30,196.95 L346.59,196.95 L346.88,196.95 L347.17,196.95 L347.46,196.94 L347.75,196.94 L348.04,196.94 L348.33,196.93 L348.62,196.93 L348.91,196.93 L349.21,196.92 L349.50,196.92 L349.79,196.92 L350.08,196.92 L350.37,196.91 L350.66,196.91 L350.95,196.90 L351.24,196.90 L351.53,196.90 L351.82,196.89 L352.11,196.89 L352.40,196.89 L352.69,196.88 L352.98,196.88 L353.27,196.88 L353.57,196.87 L353.86,196.87 L354.15,196.86 L354.44,196.86 L354.73,196.85 L355.02,196.85 L355.31,196.85 L355.60,196.84 L355.89,196.84 L356.18,196.83 L356.47,196.83 L356.76,196.82 L357.05,196.82 L357.34,196.81 L357.64,196.81 L357.93,196.80 L358.22,196.80 L358.51,196.79 L358.80,196.78 L359.09,196.78 L359.38,196.77 L359.67,196.77 L359.96,196.76 L360.25,196.76 L360.54,196.75 L360.83,196.74 L361.12,196.74 L361.41,196.73 L361.71,196.72 L362.00,196.72 L362.29,196.71 L362.58,196.70 L362.87,196.70 L363.16,196.69 L363.45,196.68 L363.74,196.67 L364.03,196.67 L364.32,196.66 L364.61,196.65 L364.90,196.64 L365.19,196.63 L365.48,196.63 L365.78,196.62 L366.07,196.61 L366.36,196.60 L366.65,196.59 L366.94,196.58 L367.23,196.57 L367.52,196.56 L367.81,196.55 L368.10,196.54 L368.39,196.53 L368.68,196.52 L368.97,196.51 L369.26,196.50 L369.55,196.49 L369.84,196.48 L370.14,196.47 L370.43,196.46 L370.72,196.45 L371.01,196.44 L371.30,196.42 L371.59,196.41 L371.88,196.40 L372.17,196.39 L372.46,196.37 L372.75,196.36 L373.04,196.35 L373.33,196.33 L373.62,196.32 L373.91,196.31 L374.21,196.29 L374.50,196.28 L374.79,196.26 L375.08,196.25 L375.37,196.23 L375.66,196.22 L375.95,196.20 L376.24,196.19 L376.53,196.17 L376.82,196.15 L377.11,196.14 L377.40,196.12 L377.69,196.10 L377.98,196.08 L378.28,196.07 L378.57,196.05 L378.86,196.03 L379.15,196.01 L379.44,195.99 L379.73,195.97 L380.02,195.95 L380.31,195.93 L380.60,195.91 L380.89,195.89 L381.18,195.87 L381.47,195.84 L381.76,195.82 L382.05,195.80 L382.35,195.77 L382.64,195.75 L382.93,195.73 L383.22,195.70 L383.51,195.68 L383.80,195.65 L384.09,195.63 L384.38,195.60 L384.67,195.57 L384.96,195.55 L385.25,195.52 L385.54,195.49 L385.83,195.46 L386.12,195.43 L386.41,195.40 L386.71,195.37 L387.00,195.34 L387.29,195.31 L387.58,195.28 L387.87,195.25 L388.16,195.21 L388.45,195.18 L388.74,195.15 L389.03,195.11 L389.32,195.08 L389.61,195.04 L389.90,195.00 L390.19,194.97 L390.48,194.93 L390.78,194.89 L391.07,194.85 L391.36,194.81 L391.65,194.77 L391.94,194.73 L392.23,194.69 L392.52,194.65 L392.81,194.60 L393.10,194.56 L393.39,194.51 L393.68,194.47 L393.97,194.42 L394.26,194.37 L394.55,194.32 L394.85,194.28 L395.14,194.23 L395.43,194.18 L395.72,194.12 L396.01,194.07 L396.30,194.02 L396.59,193.96 L396.88,193.91 L397.17,193.85 L397.46,193.79 L397.75,193.74 L398.04,193.68 L398.33,193.62 L398.62,193.55 L398.92,193.49 L399.21,193.43 L399.50,193.36 L399.79,193.30 L400.08,193.23 L400.37,193.16 L400.66,193.09 L400.95,193.02 L401.24,192.95 L401.53,192.88 L401.82,192.81 L402.11,192.73 L402.40,192.65 L402.69,192.58 L402.98,192.50 L403.28,192.42 L403.57,192.34 L403.86,192.25 L404.15,192.17 L404.44,192.08 L404.73,191.99 L405.02,191.90 L405.31,191.81 L405.60,191.72 L405.89,191.63 L406.18,191.53 L406.47,191.44 L406.76,191.34 L407.05,191.24 L407.35,191.14 L407.64,191.03 L407.93,190.93 L408.22,190.82 L408.51,190.71 L408.80,190.60 L409.09,190.49 L409.38,190.37 L409.67,190.26 L409.96,190.14 L410.25,190.02 L410.54,189.90 L410.83,189.77 L411.12,189.65 L411.42,189.52 L411.71,189.39 L412.00,189.26 L412.29,189.12 L412.58,188.98 L412.87,188.84 L413.16,188.70 L413.45,188.56 L413.74,188.41 L414.03,188.26 L414.32,188.11 L414.61,187.96 L414.90,187.80 L415.19,187.65 L415.48,187.49 L415.78,187.32 L416.07,187.16 L416.36,186.99 L416.65,186.82 L416.94,186.64 L417.23,186.47 L417.52,186.29 L417.81,186.10 L418.10,185.92 L418.39,185.73 L418.68,185.54 L418.97,185.34 L419.26,185.15 L419.55,184.95 L419.85,184.74 L420.14,184.54 L420.43,184.33 L420.72,184.11 L421.01,183.90 L421.30,183.68 L421.59,183.45 L421.88,183.23 L422.17,183.00 L422.46,182.76 L422.75,182.53 L423.04,182.29 L423.33,182.04 L423.62,181.79 L423.92,181.54 L424.21,181.29 L424.50,181.03 L424.79,180.77 L425.08,180.50 L425.37,180.23 L425.66,179.95 L425.95,179.68 L426.24,179.39 L426.53,179.11 L426.82,178.82 L427.11,178.52 L427.40,178.22 L427.69,177.92 L427.99,177.61 L428.28,177.30 L428.57,176.98 L428.86,176.66 L429.15,176.34 L429.44,176.01 L429.73,175.67 L430.02,175.33 L430.31,174.99 L430.60,174.64 L430.89,174.29 L431.18,173.93 L431.47,173.57 L431.76,173.20 L432.05,172.83 L432.35,172.45 L432.64,172.07 L432.93,171.68 L433.22,171.29 L433.51,170.89 L433.80,170.49 L434.09,170.08 L434.38,169.67 L434.67,169.25 L434.96,168.83 L435.25,168.40 L435.54,167.97 L435.83,167.53 L436.12,167.08 L436.42,166.64 L436.71,166.18 L437.00,165.72 L437.29,165.25 L437.58,164.78 L437.87,164.31 L438.16,163.83 L438.45,163.34 L438.74,162.85 L439.03,162.35 L439.32,161.84 L439.61,161.33 L439.90,160.82 L440.19,160.30 L440.49,159.77 L440.78,159.24 L441.07,158.70 L441.36,158.16 L441.65,157.61 L441.94,157.06 L442.23,156.50 L442.52,155.93 L442.81,155.36 L443.10,154.78 L443.39,154.20 L443.68,153.61 L443.97,153.02 L444.26,152.42 L444.56,151.82 L444.85,151.21 L445.14,150.59 L445.43,149.97 L445.72,149.35 L446.01,148.72 L446.30,148.08 L446.59,147.44 L446.88,146.79 L447.17,146.14 L447.46,145.48 L447.75,144.82 L448.04,144.15 L448.33,143.48 L448.62,142.80 L448.92,142.12 L449.21,141.43 L449.50,140.74 L449.79,140.04 L450.08,139.34 L450.37,138.64 L450.66,137.92 L450.95,137.21 L451.24,136.49 L451.53,135.77 L451.82,135.04 L452.11,134.30 L452.40,133.57 L452.69,132.83 L452.99,132.08 L453.28,131.33 L453.57,130.58 L453.86,129.82 L454.15,129.06 L454.44,128.30 L454.73,127.53 L455.02,126.77 L455.31,125.99 L455.60,125.22 L455.89,124.44 L456.18,123.65 L456.47,122.87 L456.76,122.08 L457.06,121.29 L457.35,120.50 L457.64,119.70 L457.93,118.91 L458.22,118.11 L458.51,117.31 L458.80,116.50 L459.09,115.70 L459.38,114.89 L459.67,114.09 L459.96,113.28 L460.25,112.47 L460.54,111.66 L460.83,110.84 L461.13,110.03 L461.42,109.22 L461.71,108.40 L462.00,107.59 L462.29,106.77 L462.58,105.95 L462.87,105.14 L463.16,104.32 L463.45,103.51 L463.74,102.69 L464.03,101.88 L464.32,101.06 L464.61,100.25 L464.90,99.44 L465.19,98.62 L465.49,97.81 L465.78,97.00 L466.07,96.20 L466.36,95.39 L466.65,94.58 L466.94,93.78 L467.23,92.98 L467.52,92.18 L467.81,91.38 L468.10,90.59 L468.39,89.79 L468.68,89.00 L468.97,88.21 L469.26,87.43 L469.56,86.64 L469.85,85.86 L470.14,85.09 L470.43,84.31 L470.72,83.54 L471.01,82.77 L471.30,82.01 L471.59,81.25 L471.88,80.49 L472.17,79.74 L472.46,78.99 L472.75,78.24 L473.04,77.50 L473.33,76.76 L473.63,76.03 L473.92,75.30 L474.21,74.57 L474.50,73.85 L474.79,73.13 L475.08,72.42 L475.37,71.71 L475.66,71.01 L475.95,70.31 L476.24,69.62 L476.53,68.93 L476.82,68.24 L477.11,67.56 L477.40,66.89 L477.69,66.22 L477.99,65.56 L478.28,64.90 L478.57,64.24 L478.86,63.59 L479.15,62.95 L479.44,62.31 L479.73,61.68 L480.02,61.05 L480.31,60.43 L480.60,59.81 L480.89,59.20 L481.18,58.60 L481.47,58.00 L481.76,57.40 L482.06,56.81 L482.35,56.23 L482.64,55.65 L482.93,55.08 L483.22,54.51 L483.51,53.95 L483.80,53.39 L484.09,52.84 L484.38,52.30 L484.67,51.76 L484.96,51.22 L485.25,50.69 L485.54,50.17 L485.83,49.66 L486.13,49.14 L486.42,48.64 L486.71,48.14 L487.00,47.64 L487.29,47.15 L487.58,46.67 L487.87,46.19 L488.16,45.72 L488.45,45.25 L488.74,44.79 L489.03,44.33 L489.32,43.88 L489.61,43.44 L489.90,43.00 L490.20,42.56 L490.49,42.13 L490.78,41.71 L491.07,41.29 L491.36,40.87 L491.65,40.46 L491.94,40.06 L492.23,39.66 L492.52,39.27 L492.81,38.88 L493.10,38.49 L493.39,38.11 L493.68,37.74 L493.97,37.37 L494.26,37.01 L494.56,36.65 L494.85,36.29 L495.14,35.94 L495.43,35.60 L495.72,35.26 L496.01,34.92 L496.30,34.59 L496.59,34.26 L496.88,33.94 L497.17,33.62 L497.46,33.31 L497.75,33.00 L498.04,32.69 L498.33,32.39 L498.63,32.10 L498.92,31.80 L499.21,31.52 L499.50,31.23 L499.79,30.95 L500.08,30.68 L500.37,30.40 L500.66,30.14 L500.95,29.87 L501.24,29.61 L501.53,29.36 L501.82,29.10 L502.11,28.85 L502.40,28.61 L502.70,28.37 L502.99,28.13 L503.28,27.89 L503.57,27.66 L503.86,27.44 L504.15,27.21 L504.44,26.99 L504.73,26.77 L505.02,26.56 L505.31,26.35 L505.60,26.14 L505.89,25.94 L506.18,25.73 L506.47,25.54 L506.77,25.34 L507.06,25.15 L507.35,24.96 L507.64,24.77 L507.93,24.59 L508.22,24.41 L508.51,24.23 L508.80,24.06" fill="none" stroke="#646464" stroke-width="1.0" stroke-dasharray="1.2 2.3"/>
<path d="M305.60,197.10 L305.89,197.10 L306.17,197.10 L306.46,197.10 L306.75,197.10 L307.04,197.10 L307.32,197.10 L307.61,197.10 L307.90,197.10 L308.18,197.10 L308.47,197.10 L308.76,197.10 L309.05,197.10 L309.33,197.10 L309.62,197.10 L309.91,197.10 L310.19,197.10 L310.48,197.10 L310.77,197.10 L311.06,197.10 L311.34,197.10 L311.63,197.10 L311.92,197.10 L312.20,197.10 L312.49,197.10 L312.78,197.10 L313.07,197.10 L313.35,197.10 L313.64,197.10 L313.93,197.10 L314.21,197.10 L314.50,197.10 L314.79,197.10 L315.08,197.10 L315.36,197.10 L315.65,197.10 L315.94,197.10 L316.22,197.10 L316.51,197.10 L316.80,197.10 L317.08,197.10 L317.37,197.10 L317.66,197.10 L317.95,197.10 L318.23,197.10 L318.52,197.10 L318.81,197.10 L319.09,197.10 L319.38,197.10 L319.67,197.10 L319.96,197.10 L320.24,197.10 L320.53,197.10 L320.82,197.10 L321.10,197.10 L321.39,197.10 L321.68,197.10 L321.97,197.10 L322.25,197.10 L322.54,197.10 L322.83,197.10 L323.11,197.10 L323.40,197.10 L323.69,197.10 L323.98,197.10 L324.26,197.10 L324.55,197.10 L324.84,197.10 L325.12,197.10 L325.41,197.10 L325.70,197.10 L325.99,197.10 L326.27,197.10 L326.56,197.10 L326.85,197.10 L327.13,197.10 L327.42,197.10 L327.71,197.10 L328.00,197.10 L328.28,197.10 L328.57,197.10 L328.86,197.10 L329.14,197.10 L329.43,197.10 L329.72,197.10 L330.01,197.10 L330.29,197.10 L330.58,197.10 L330.87,197.10 L331.15,197.10 L331.44,197.10 L331.73,197.10 L332.02,197.10 L332.30,197.10 L332.59,197.10 L332.88,197.10 L333.16,197.10 L333.45,197.10 L333.74,197.10 L334.03,197.10 L334.31,197.10 L334.60,197.10 L334.89,197.10 L335.17,197.10 L335.46,197.10 L335.75,197.10 L336.04,197.10 L336.32,197.09 L336.61,197.09 L336.90,197.09 L337.18,197.09 L337.47,197.09 L337.76,197.09 L338.05,197.09 L338.33,197.09 L338.62,197.09 L338.91,197.09 L339.19,197.09 L339.48,197.09 L339.77,197.09 L340.05,197.09 L340.34,197.09 L340.63,197.09 L340.92,197.09 L341.20,197.09 L341.49,197.09 L341.78,197.09 L342.06,197.09 L342.35,197.09 L342.64,197.09 L342.93,197.09 L343.21,197.09 L343.50,197.09 L343.79,197.09 L344.07,197.09 L344.36,197.09 L344.65,197.09 L344.94,197.09 L345.22,197.09 L345.51,197.09 L345.80,197.09 L346.08,197.09 L346.37,197.09 L346.66,197.09 L346.95,197.09 L347.23,197.09 L347.52,197.09 L347.81,197.09 L348.09,197.09 L348.38,197.09 L348.67,197.09 L348.96,197.09 L349.24,197.09 L349.53,197.09 L349.82,197.09 L350.10,197.09 L350.39,197.09 L350.68,197.09 L350.97,197.09 L351.25,197.09 L351.54,197.08 L351.83,197.08 L352.11,197.08 L352.40,197.08 L352.69,197.08 L352.98,197.08 L353.26,197.08 L353.55,197.08 L353.84,197.08 L354.12,197.08 L354.41,197.08 L354.70,197.08 L354.99,197.08 L355.27,197.08 L355.56,197.08 L355.85,197.08 L356.13,197.08 L356.42,197.08 L356.71,197.08 L357.00,197.08 L357.28,197.08 L357.57,197.08 L357.86,197.08 L358.14,197.08 L358.43,197.08 L358.72,197.07 L359.01,197.07 L359.29,197.07 L359.58,197.07 L359.87,197.07 L360.15,197.07 L360.44,197.07 L360.73,197.07 L361.02,197.07 L361.30,197.07 L361.59,197.07 L361.88,197.07 L362.16,197.07 L362.45,197.07 L362.74,197.07 L363.02,197.07 L363.31,197.06 L363.60,197.06 L363.89,197.06 L364.17,197.06 L364.46,197.06 L364.75,197.06 L365.03,197.06 L365.32,197.06 L365.61,197.06 L365.90,197.06 L366.18,197.06 L366.47,197.06 L366.76,197.05 L367.04,197.05 L367.33,197.05 L367.62,197.05 L367.91,197.05 L368.19,197.05 L368.48,197.05 L368.77,197.05 L369.05,197.05 L369.34,197.05 L369.63,197.04 L369.92,197.04 L370.20,197.04 L370.49,197.04 L370.78,197.04 L371.06,197.04 L371.35,197.04 L371.64,197.04 L371.93,197.03 L372.21,197.03 L372.50,197.03 L372.79,197.03 L373.07,197.03 L373.36,197.03 L373.65,197.03 L373.94,197.02 L374.22,197.02 L374.51,197.02 L374.80,197.02 L375.08,197.02 L375.37,197.02 L375.66,197.01 L375.95,197.01 L376.23,197.01 L376.52,197.01 L376.81,197.01 L377.09,197.00 L377.38,197.00 L377.67,197.00 L377.96,197.00 L378.24,197.00 L378.53,196.99 L378.82,196.99 L379.10,196.99 L379.39,196.99 L379.68,196.99 L379.97,196.98 L380.25,196.98 L380.54,196.98 L380.83,196.98 L381.11,196.97 L381.40,196.97 L381.69,196.97 L381.98,196.96 L382.26,196.96 L382.55,196.96 L382.84,196.96 L383.12,196.95 L383.41,196.95 L383.70,196.95 L383.98,196.94 L384.27,196.94 L384.56,196.94 L384.85,196.93 L385.13,196.93 L385.42,196.93 L385.71,196.92 L385.99,196.92 L386.28,196.92 L386.57,196.91 L386.86,196.91 L387.14,196.90 L387.43,196.90 L387.72,196.90 L388.00,196.89 L388.29,196.89 L388.58,196.88 L388.87,196.88 L389.15,196.87 L389.44,196.87 L389.73,196.86 L390.01,196.86 L390.30,196.85 L390.59,196.85 L390.88,196.84 L391.16,196.84 L391.45,196.83 L391.74,196.83 L392.02,196.82 L392.31,196.82 L392.60,196.81 L392.89,196.80 L393.17,196.80 L393.46,196.79 L393.75,196.78 L394.03,196.78 L394.32,196.77 L394.61,196.76 L394.90,196.76 L395.18,196.75 L395.47,196.74 L395.76,196.74 L396.04,196.73 L396.33,196.72 L396.62,196.71 L396.91,196.70 L397.19,196.70 L397.48,196.69 L397.77,196.68 L398.05,196.67 L398.34,196.66 L398.63,196.65 L398.92,196.64 L399.20,196.63 L399.49,196.62 L399.78,196.61 L400.06,196.60 L400.35,196.59 L400.64,196.58 L400.93,196.57 L401.21,196.56 L401.50,196.55 L401.79,196.54 L402.07,196.53 L402.36,196.51 L402.65,196.50 L402.94,196.49 L403.22,196.48 L403.51,196.46 L403.80,196.45 L404.08,196.44 L404.37,196.42 L404.66,196.41 L404.95,196.40 L405.23,196.38 L405.52,196.37 L405.81,196.35 L406.09,196.34 L406.38,196.32 L406.67,196.30 L406.95,196.29 L407.24,196.27 L407.53,196.25 L407.82,196.23 L408.10,196.22 L408.39,196.20 L408.68,196.18 L408.96,196.16 L409.25,196.14 L409.54,196.12 L409.83,196.10 L410.11,196.08 L410.40,196.06 L410.69,196.04 L410.97,196.01 L411.26,195.99 L411.55,195.97 L411.84,195.95 L412.12,195.92 L412.41,195.90 L412.70,195.87 L412.98,195.85 L413.27,195.82 L413.56,195.79 L413.85,195.77 L414.13,195.74 L414.42,195.71 L414.71,195.68 L414.99,195.65 L415.28,195.62 L415.57,195.59 L415.86,195.56 L416.14,195.53 L416.43,195.50 L416.72,195.46 L417.00,195.43 L417.29,195.39 L417.58,195.36 L417.87,195.32 L418.15,195.29 L418.44,195.25 L418.73,195.21 L419.01,195.17 L419.30,195.13 L419.59,195.09 L419.88,195.05 L420.16,195.01 L420.45,194.96 L420.74,194.92 L421.02,194.87 L421.31,194.83 L421.60,194.78 L421.89,194.73 L422.17,194.68 L422.46,194.63 L422.75,194.58 L423.03,194.53 L423.32,194.48 L423.61,194.43 L423.90,194.37 L424.18,194.31 L424.47,194.26 L424.76,194.20 L425.04,194.14 L425.33,194.08 L425.62,194.02 L425.91,193.95 L426.19,193.89 L426.48,193.82 L426.77,193.75 L427.05,193.69 L427.34,193.62 L427.63,193.54 L427.92,193.47 L428.20,193.40 L428.49,193.32 L428.78,193.24 L429.06,193.16 L429.35,193.08 L429.64,193.00 L429.92,192.92 L430.21,192.83 L430.50,192.74 L430.79,192.66 L431.07,192.57 L431.36,192.47 L431.65,192.38 L431.93,192.28 L432.22,192.18 L432.51,192.08 L432.80,191.98 L433.08,191.88 L433.37,191.77 L433.66,191.66 L433.94,191.55 L434.23,191.44 L434.52,191.33 L434.81,191.21 L435.09,191.09 L435.38,190.97 L435.67,190.84 L435.95,190.72 L436.24,190.59 L436.53,190.46 L436.82,190.32 L437.10,190.19 L437.39,190.05 L437.68,189.91 L437.96,189.76 L438.25,189.61 L438.54,189.46 L438.83,189.31 L439.11,189.15 L439.40,189.00 L439.69,188.83 L439.97,188.67 L440.26,188.50 L440.55,188.33 L440.84,188.15 L441.12,187.98 L441.41,187.79 L441.70,187.61 L441.98,187.42 L442.27,187.23 L442.56,187.03 L442.85,186.83 L443.13,186.63 L443.42,186.43 L443.71,186.21 L443.99,186.00 L444.28,185.78 L444.57,185.56 L444.86,185.33 L445.14,185.10 L445.43,184.87 L445.72,184.63 L446.00,184.39 L446.29,184.14 L446.58,183.89 L446.87,183.63 L447.15,183.37 L447.44,183.10 L447.73,182.83 L448.01,182.56 L448.30,182.28 L448.59,181.99 L448.88,181.70 L449.16,181.40 L449.45,181.10 L449.74,180.80 L450.02,180.49 L450.31,180.17 L450.60,179.85 L450.88,179.52 L451.17,179.19 L451.46,178.85 L451.75,178.50 L452.03,178.15 L452.32,177.80 L452.61,177.44 L452.89,177.07 L453.18,176.69 L453.47,176.31 L453.76,175.93 L454.04,175.53 L454.33,175.14 L454.62,174.73 L454.90,174.32 L455.19,173.90 L455.48,173.47 L455.77,173.04 L456.05,172.60 L456.34,172.16 L456.63,171.71 L456.91,171.25 L457.20,170.78 L457.49,170.31 L457.78,169.83 L458.06,169.34 L458.35,168.85 L458.64,168.35 L458.92,167.84 L459.21,167.32 L459.50,166.80 L459.79,166.26 L460.07,165.73 L460.36,165.18 L460.65,164.63 L460.93,164.06 L461.22,163.49 L461.51,162.92 L461.80,162.33 L462.08,161.74 L462.37,161.14 L462.66,160.53 L462.94,159.92 L463.23,159.29 L463.52,158.66 L463.81,158.02 L464.09,157.38 L464.38,156.72 L464.67,156.06 L464.95,155.39 L465.24,154.71 L465.53,154.02 L465.82,153.33 L466.10,152.62 L466.39,151.91 L466.68,151.20 L466.96,150.47 L467.25,149.74 L467.54,149.00 L467.83,148.25 L468.11,147.49 L468.40,146.73 L468.69,145.96 L468.97,145.18 L469.26,144.39 L469.55,143.60 L469.84,142.80 L470.12,141.99 L470.41,141.17 L470.70,140.35 L470.98,139.52 L471.27,138.69 L471.56,137.84 L471.85,136.99 L472.13,136.14 L472.42,135.28 L472.71,134.41 L472.99,133.53 L473.28,132.65 L473.57,131.76 L473.85,130.87 L474.14,129.97 L474.43,129.07 L474.72,128.16 L475.00,127.24 L475.29,126.32 L475.58,125.40 L475.86,124.47 L476.15,123.54 L476.44,122.60 L476.73,121.65 L477.01,120.71 L477.30,119.75 L477.59,118.80 L477.87,117.84 L478.16,116.88 L478.45,115.91 L478.74,114.95 L479.02,113.98 L479.31,113.00 L479.60,112.03 L479.88,111.05 L480.17,110.07 L480.46,109.08 L480.75,108.10 L481.03,107.12 L481.32,106.13 L481.61,105.14 L481.89,104.15 L482.18,103.17 L482.47,102.18 L482.76,101.19 L483.04,100.20 L483.33,99.21 L483.62,98.22 L483.90,97.23 L484.19,96.25 L484.48,95.26 L484.77,94.28 L485.05,93.29 L485.34,92.31 L485.63,91.33 L485.91,90.35 L486.20,89.38 L486.49,88.41 L486.78,87.44 L487.06,86.47 L487.35,85.51 L487.64,84.55 L487.92,83.59 L488.21,82.64 L488.50,81.69 L488.79,80.74 L489.07,79.80 L489.36,78.87 L489.65,77.94 L489.93,77.01 L490.22,76.09 L490.51,75.17 L490.80,74.26 L491.08,73.35 L491.37,72.45 L491.66,71.55 L491.94,70.66 L492.23,69.78 L492.52,68.90 L492.81,68.03 L493.09,67.17 L493.38,66.31 L493.67,65.45 L493.95,64.61 L494.24,63.77 L494.53,62.94 L494.82,62.11 L495.10,61.29 L495.39,60.48 L495.68,59.68 L495.96,58.88 L496.25,58.09 L496.54,57.31 L496.82,56.53 L497.11,55.77 L497.40,55.01 L497.69,54.25 L497.97,53.51 L498.26,52.77 L498.55,52.04 L498.83,51.32 L499.12,50.61 L499.41,49.90 L499.70,49.21 L499.98,48.52 L500.27,47.83 L500.56,47.16 L500.84,46.49 L501.13,45.83 L501.42,45.18 L501.71,44.54 L501.99,43.90 L502.28,43.28 L502.57,42.66 L502.85,42.05 L503.14,41.44 L503.43,40.85 L503.72,40.26 L504.00,39.68 L504.29,39.11 L504.58,38.54 L504.86,37.98 L505.15,37.43 L505.44,36.89 L505.73,36.36 L506.01,35.83 L506.30,35.31" fill="none" stroke="#646464" stroke-width="1.0" stroke-dasharray="1.2 2.3"/>
<rect x="305.6" y="1.5" width="212.60000000000002" height="213.1" fill="none" stroke="#333" stroke-width="1.1"/>
<line x1="326.10" y1="214.60" x2="326.10" y2="212.40" stroke="#1a1a1a" stroke-width="1.1"/>
<line x1="326.10" y1="1.50" x2="326.10" y2="3.70" stroke="#1a1a1a" stroke-width="1.1"/>
<line x1="338.09" y1="214.60" x2="338.09" y2="212.40" stroke="#1a1a1a" stroke-width="1.1"/>
<line x1="338.09" y1="1.50" x2="338.09" y2="3.70" stroke="#1a1a1a" stroke-width="1.1"/>
<line x1="346.60" y1="214.60" x2="346.60" y2="212.40" stroke="#1a1a1a" stroke-width="1.1"/>
<line x1="346.60" y1="1.50" x2="346.60" y2="3.70" stroke="#1a1a1a" stroke-width="1.1"/>
<line x1="353.20" y1="214.60" x2="353.20" y2="212.40" stroke="#1a1a1a" stroke-width="1.1"/>
<line x1="353.20" y1="1.50" x2="353.20" y2="3.70" stroke="#1a1a1a" stroke-width="1.1"/>
<line x1="358.59" y1="214.60" x2="358.59" y2="212.40" stroke="#1a1a1a" stroke-width="1.1"/>
<line x1="358.59" y1="1.50" x2="358.59" y2="3.70" stroke="#1a1a1a" stroke-width="1.1"/>
<line x1="363.15" y1="214.60" x2="363.15" y2="212.40" stroke="#1a1a1a" stroke-width="1.1"/>
<line x1="363.15" y1="1.50" x2="363.15" y2="3.70" stroke="#1a1a1a" stroke-width="1.1"/>
<line x1="367.10" y1="214.60" x2="367.10" y2="212.40" stroke="#1a1a1a" stroke-width="1.1"/>
<line x1="367.10" y1="1.50" x2="367.10" y2="3.70" stroke="#1a1a1a" stroke-width="1.1"/>
<line x1="370.58" y1="214.60" x2="370.58" y2="212.40" stroke="#1a1a1a" stroke-width="1.1"/>
<line x1="370.58" y1="1.50" x2="370.58" y2="3.70" stroke="#1a1a1a" stroke-width="1.1"/>
<line x1="373.70" y1="214.60" x2="373.70" y2="210.60" stroke="#1a1a1a" stroke-width="1.1"/>
<line x1="373.70" y1="1.50" x2="373.70" y2="5.50" stroke="#1a1a1a" stroke-width="1.1"/>
<line x1="394.20" y1="214.60" x2="394.20" y2="212.40" stroke="#1a1a1a" stroke-width="1.1"/>
<line x1="394.20" y1="1.50" x2="394.20" y2="3.70" stroke="#1a1a1a" stroke-width="1.1"/>
<line x1="406.19" y1="214.60" x2="406.19" y2="212.40" stroke="#1a1a1a" stroke-width="1.1"/>
<line x1="406.19" y1="1.50" x2="406.19" y2="3.70" stroke="#1a1a1a" stroke-width="1.1"/>
<line x1="414.70" y1="214.60" x2="414.70" y2="212.40" stroke="#1a1a1a" stroke-width="1.1"/>
<line x1="414.70" y1="1.50" x2="414.70" y2="3.70" stroke="#1a1a1a" stroke-width="1.1"/>
<line x1="421.30" y1="214.60" x2="421.30" y2="212.40" stroke="#1a1a1a" stroke-width="1.1"/>
<line x1="421.30" y1="1.50" x2="421.30" y2="3.70" stroke="#1a1a1a" stroke-width="1.1"/>
<line x1="426.69" y1="214.60" x2="426.69" y2="212.40" stroke="#1a1a1a" stroke-width="1.1"/>
<line x1="426.69" y1="1.50" x2="426.69" y2="3.70" stroke="#1a1a1a" stroke-width="1.1"/>
<line x1="431.25" y1="214.60" x2="431.25" y2="212.40" stroke="#1a1a1a" stroke-width="1.1"/>
<line x1="431.25" y1="1.50" x2="431.25" y2="3.70" stroke="#1a1a1a" stroke-width="1.1"/>
<line x1="435.20" y1="214.60" x2="435.20" y2="212.40" stroke="#1a1a1a" stroke-width="1.1"/>
<line x1="435.20" y1="1.50" x2="435.20" y2="3.70" stroke="#1a1a1a" stroke-width="1.1"/>
<line x1="438.68" y1="214.60" x2="438.68" y2="212.40" stroke="#1a1a1a" stroke-width="1.1"/>
<line x1="438.68" y1="1.50" x2="438.68" y2="3.70" stroke="#1a1a1a" stroke-width="1.1"/>
<line x1="441.80" y1="214.60" x2="441.80" y2="210.60" stroke="#1a1a1a" stroke-width="1.1"/>
<line x1="441.80" y1="1.50" x2="441.80" y2="5.50" stroke="#1a1a1a" stroke-width="1.1"/>
<line x1="462.30" y1="214.60" x2="462.30" y2="212.40" stroke="#1a1a1a" stroke-width="1.1"/>
<line x1="462.30" y1="1.50" x2="462.30" y2="3.70" stroke="#1a1a1a" stroke-width="1.1"/>
<line x1="474.29" y1="214.60" x2="474.29" y2="212.40" stroke="#1a1a1a" stroke-width="1.1"/>
<line x1="474.29" y1="1.50" x2="474.29" y2="3.70" stroke="#1a1a1a" stroke-width="1.1"/>
<line x1="482.80" y1="214.60" x2="482.80" y2="212.40" stroke="#1a1a1a" stroke-width="1.1"/>
<line x1="482.80" y1="1.50" x2="482.80" y2="3.70" stroke="#1a1a1a" stroke-width="1.1"/>
<line x1="489.40" y1="214.60" x2="489.40" y2="212.40" stroke="#1a1a1a" stroke-width="1.1"/>
<line x1="489.40" y1="1.50" x2="489.40" y2="3.70" stroke="#1a1a1a" stroke-width="1.1"/>
<line x1="494.79" y1="214.60" x2="494.79" y2="212.40" stroke="#1a1a1a" stroke-width="1.1"/>
<line x1="494.79" y1="1.50" x2="494.79" y2="3.70" stroke="#1a1a1a" stroke-width="1.1"/>
<line x1="499.35" y1="214.60" x2="499.35" y2="212.40" stroke="#1a1a1a" stroke-width="1.1"/>
<line x1="499.35" y1="1.50" x2="499.35" y2="3.70" stroke="#1a1a1a" stroke-width="1.1"/>
<line x1="503.30" y1="214.60" x2="503.30" y2="212.40" stroke="#1a1a1a" stroke-width="1.1"/>
<line x1="503.30" y1="1.50" x2="503.30" y2="3.70" stroke="#1a1a1a" stroke-width="1.1"/>
<line x1="506.78" y1="214.60" x2="506.78" y2="212.40" stroke="#1a1a1a" stroke-width="1.1"/>
<line x1="506.78" y1="1.50" x2="506.78" y2="3.70" stroke="#1a1a1a" stroke-width="1.1"/>
<line x1="509.90" y1="214.60" x2="509.90" y2="210.60" stroke="#1a1a1a" stroke-width="1.1"/>
<line x1="509.90" y1="1.50" x2="509.90" y2="5.50" stroke="#1a1a1a" stroke-width="1.1"/>
<text x="307.40" y="230.30" font-size="11.2" text-anchor="middle" font-weight="normal" >0.01</text>
<text x="375.00" y="230.30" font-size="11.2" text-anchor="middle" font-weight="normal" >0.1</text>
<text x="441.50" y="230.30" font-size="11.2" text-anchor="middle" font-weight="normal" >1</text>
<text x="512.30" y="230.30" font-size="11.2" text-anchor="middle" font-weight="normal" >10</text>
<line x1="305.60" y1="197.10" x2="309.60" y2="197.10" stroke="#1a1a1a" stroke-width="1.1"/>
<line x1="518.20" y1="197.10" x2="514.20" y2="197.10" stroke="#1a1a1a" stroke-width="1.1"/>
<text x="301.90" y="201.40" font-size="11.2" text-anchor="end" font-weight="normal" >0.0</text>
<line x1="305.60" y1="179.31" x2="307.80" y2="179.31" stroke="#1a1a1a" stroke-width="1.1"/>
<line x1="518.20" y1="179.31" x2="516.00" y2="179.31" stroke="#1a1a1a" stroke-width="1.1"/>
<line x1="305.60" y1="161.52" x2="309.60" y2="161.52" stroke="#1a1a1a" stroke-width="1.1"/>
<line x1="518.20" y1="161.52" x2="514.20" y2="161.52" stroke="#1a1a1a" stroke-width="1.1"/>
<text x="301.90" y="165.82" font-size="11.2" text-anchor="end" font-weight="normal" >0.2</text>
<line x1="305.60" y1="143.73" x2="307.80" y2="143.73" stroke="#1a1a1a" stroke-width="1.1"/>
<line x1="518.20" y1="143.73" x2="516.00" y2="143.73" stroke="#1a1a1a" stroke-width="1.1"/>
<line x1="305.60" y1="125.94" x2="309.60" y2="125.94" stroke="#1a1a1a" stroke-width="1.1"/>
<line x1="518.20" y1="125.94" x2="514.20" y2="125.94" stroke="#1a1a1a" stroke-width="1.1"/>
<text x="301.90" y="130.24" font-size="11.2" text-anchor="end" font-weight="normal" >0.4</text>
<line x1="305.60" y1="108.15" x2="307.80" y2="108.15" stroke="#1a1a1a" stroke-width="1.1"/>
<line x1="518.20" y1="108.15" x2="516.00" y2="108.15" stroke="#1a1a1a" stroke-width="1.1"/>
<line x1="305.60" y1="90.36" x2="309.60" y2="90.36" stroke="#1a1a1a" stroke-width="1.1"/>
<line x1="518.20" y1="90.36" x2="514.20" y2="90.36" stroke="#1a1a1a" stroke-width="1.1"/>
<text x="301.90" y="94.66" font-size="11.2" text-anchor="end" font-weight="normal" >0.6</text>
<line x1="305.60" y1="72.57" x2="307.80" y2="72.57" stroke="#1a1a1a" stroke-width="1.1"/>
<line x1="518.20" y1="72.57" x2="516.00" y2="72.57" stroke="#1a1a1a" stroke-width="1.1"/>
<line x1="305.60" y1="54.78" x2="309.60" y2="54.78" stroke="#1a1a1a" stroke-width="1.1"/>
<line x1="518.20" y1="54.78" x2="514.20" y2="54.78" stroke="#1a1a1a" stroke-width="1.1"/>
<text x="301.90" y="59.08" font-size="11.2" text-anchor="end" font-weight="normal" >0.8</text>
<line x1="305.60" y1="36.99" x2="307.80" y2="36.99" stroke="#1a1a1a" stroke-width="1.1"/>
<line x1="518.20" y1="36.99" x2="516.00" y2="36.99" stroke="#1a1a1a" stroke-width="1.1"/>
<line x1="305.60" y1="19.20" x2="309.60" y2="19.20" stroke="#1a1a1a" stroke-width="1.1"/>
<line x1="518.20" y1="19.20" x2="514.20" y2="19.20" stroke="#1a1a1a" stroke-width="1.1"/>
<text x="301.90" y="23.50" font-size="11.2" text-anchor="end" font-weight="normal" >1.0</text>
<rect x="325.8" y="205.8" width="30" height="11.8" fill="#d9d9d9" stroke="#8a8a8a" stroke-width="1"/>
<rect x="54.90" y="207.60" width="4.2" height="4.2" fill="#000"/>
<rect x="57.40" y="206.20" width="4.2" height="4.2" fill="#000"/>
<rect x="63.40" y="202.60" width="4.2" height="4.2" fill="#000"/>
<rect x="75.30" y="191.50" width="4.2" height="4.2" fill="#000"/>
<rect x="79.90" y="188.30" width="4.2" height="4.2" fill="#000"/>
<rect x="89.90" y="174.40" width="4.2" height="4.2" fill="#000"/>
<rect x="98.50" y="157.90" width="4.2" height="4.2" fill="#000"/>
<rect x="116.90" y="129.40" width="4.2" height="4.2" fill="#000"/>
<rect x="144.10" y="93.40" width="4.2" height="4.2" fill="#000"/>
<rect x="171.80" y="61.50" width="4.2" height="4.2" fill="#000"/>
<rect x="191.00" y="49.90" width="4.2" height="4.2" fill="#000"/>
<rect x="209.30" y="43.70" width="4.2" height="4.2" fill="#000"/>
<rect x="237.10" y="32.40" width="4.2" height="4.2" fill="#000"/>
<rect x="383.50" y="195.10" width="4.2" height="4.2" fill="#000"/>
<rect x="403.50" y="193.50" width="4.2" height="4.2" fill="#000"/>
<rect x="423.90" y="190.30" width="4.2" height="4.2" fill="#000"/>
<rect x="443.90" y="180.60" width="4.2" height="4.2" fill="#000"/>
<rect x="449.40" y="177.90" width="4.2" height="4.2" fill="#000"/>
<rect x="457.60" y="164.60" width="4.2" height="4.2" fill="#000"/>
<rect x="464.00" y="149.40" width="4.2" height="4.2" fill="#000"/>
<rect x="473.70" y="123.30" width="4.2" height="4.2" fill="#000"/>
<rect x="484.10" y="90.60" width="4.2" height="4.2" fill="#000"/>
<rect x="491.40" y="60.80" width="4.2" height="4.2" fill="#000"/>
<rect x="495.10" y="50.50" width="4.2" height="4.2" fill="#000"/>
<rect x="499.40" y="44.50" width="4.2" height="4.2" fill="#000"/>
<rect x="504.20" y="34.50" width="4.2" height="4.2" fill="#000"/>
<circle cx="57.00" cy="206.80" r="2.1" fill="#000"/>
<circle cx="59.50" cy="203.50" r="2.1" fill="#000"/>
<circle cx="65.50" cy="188.60" r="2.1" fill="#000"/>
<circle cx="73.00" cy="169.00" r="2.1" fill="#000"/>
<circle cx="77.40" cy="152.00" r="2.1" fill="#000"/>
<circle cx="100.60" cy="90.20" r="2.1" fill="#000"/>
<circle cx="146.60" cy="48.10" r="2.1" fill="#000"/>
<circle cx="193.00" cy="26.50" r="2.1" fill="#000"/>
<circle cx="238.80" cy="21.00" r="2.1" fill="#000"/>
<circle cx="325.60" cy="198.00" r="2.1" fill="#000"/>
<circle cx="345.60" cy="197.00" r="2.1" fill="#000"/>
<circle cx="366.00" cy="196.60" r="2.1" fill="#000"/>
<circle cx="386.40" cy="194.60" r="2.1" fill="#000"/>
<circle cx="407.00" cy="192.00" r="2.1" fill="#000"/>
<circle cx="427.60" cy="177.60" r="2.1" fill="#000"/>
<circle cx="441.40" cy="159.80" r="2.1" fill="#000"/>
<circle cx="447.60" cy="144.50" r="2.1" fill="#000"/>
<circle cx="468.40" cy="88.00" r="2.1" fill="#000"/>
<circle cx="488.30" cy="48.50" r="2.1" fill="#000"/>
<circle cx="500.50" cy="29.00" r="2.1" fill="#000"/>
<circle cx="508.80" cy="23.60" r="2.1" fill="#000"/>
<rect x="53.35" y="206.45" width="3.7" height="3.7" fill="#fff" stroke="#3a3a3a" stroke-width="0.9"/>
<rect x="55.35" y="193.65" width="3.7" height="3.7" fill="#fff" stroke="#3a3a3a" stroke-width="0.9"/>
<rect x="58.15" y="176.55" width="3.7" height="3.7" fill="#fff" stroke="#3a3a3a" stroke-width="0.9"/>
<rect x="60.15" y="169.75" width="3.7" height="3.7" fill="#fff" stroke="#3a3a3a" stroke-width="0.9"/>
<rect x="63.75" y="133.15" width="3.7" height="3.7" fill="#fff" stroke="#3a3a3a" stroke-width="0.9"/>
<rect x="75.65" y="80.05" width="3.7" height="3.7" fill="#fff" stroke="#3a3a3a" stroke-width="0.9"/>
<rect x="80.45" y="84.85" width="3.7" height="3.7" fill="#fff" stroke="#3a3a3a" stroke-width="0.9"/>
<rect x="98.75" y="47.15" width="3.7" height="3.7" fill="#fff" stroke="#3a3a3a" stroke-width="0.9"/>
<rect x="116.65" y="31.65" width="3.7" height="3.7" fill="#fff" stroke="#3a3a3a" stroke-width="0.9"/>
<rect x="144.75" y="19.45" width="3.7" height="3.7" fill="#fff" stroke="#3a3a3a" stroke-width="0.9"/>
<rect x="191.15" y="19.65" width="3.7" height="3.7" fill="#fff" stroke="#3a3a3a" stroke-width="0.9"/>
<rect x="236.95" y="15.15" width="3.7" height="3.7" fill="#fff" stroke="#3a3a3a" stroke-width="0.9"/>
<rect x="303.15" y="195.15" width="3.7" height="3.7" fill="#fff" stroke="#3a3a3a" stroke-width="0.9"/>
<rect x="322.65" y="193.45" width="3.7" height="3.7" fill="#fff" stroke="#3a3a3a" stroke-width="0.9"/>
<rect x="363.15" y="189.15" width="3.7" height="3.7" fill="#fff" stroke="#3a3a3a" stroke-width="0.9"/>
<rect x="383.75" y="182.55" width="3.7" height="3.7" fill="#fff" stroke="#3a3a3a" stroke-width="0.9"/>
<rect x="403.75" y="166.55" width="3.7" height="3.7" fill="#fff" stroke="#3a3a3a" stroke-width="0.9"/>
<rect x="412.15" y="160.55" width="3.7" height="3.7" fill="#fff" stroke="#3a3a3a" stroke-width="0.9"/>
<rect x="423.95" y="127.15" width="3.7" height="3.7" fill="#fff" stroke="#3a3a3a" stroke-width="0.9"/>
<rect x="443.75" y="78.15" width="3.7" height="3.7" fill="#fff" stroke="#3a3a3a" stroke-width="0.9"/>
<rect x="449.15" y="82.15" width="3.7" height="3.7" fill="#fff" stroke="#3a3a3a" stroke-width="0.9"/>
<rect x="463.75" y="47.65" width="3.7" height="3.7" fill="#fff" stroke="#3a3a3a" stroke-width="0.9"/>
<rect x="485.35" y="23.65" width="3.7" height="3.7" fill="#fff" stroke="#3a3a3a" stroke-width="0.9"/>
<rect x="496.85" y="21.75" width="3.7" height="3.7" fill="#fff" stroke="#3a3a3a" stroke-width="0.9"/>
<rect x="503.15" y="19.65" width="3.7" height="3.7" fill="#fff" stroke="#3a3a3a" stroke-width="0.9"/>
<circle cx="54.10" cy="203.60" r="1.85" fill="#fff" stroke="#3a3a3a" stroke-width="0.9"/>
<circle cx="54.40" cy="199.30" r="1.85" fill="#fff" stroke="#3a3a3a" stroke-width="0.9"/>
<circle cx="55.10" cy="189.40" r="1.85" fill="#fff" stroke="#3a3a3a" stroke-width="0.9"/>
<circle cx="55.60" cy="178.00" r="1.85" fill="#fff" stroke="#3a3a3a" stroke-width="0.9"/>
<circle cx="56.60" cy="155.00" r="1.85" fill="#fff" stroke="#3a3a3a" stroke-width="0.9"/>
<circle cx="59.60" cy="126.00" r="1.85" fill="#fff" stroke="#3a3a3a" stroke-width="0.9"/>
<circle cx="65.40" cy="93.60" r="1.85" fill="#fff" stroke="#3a3a3a" stroke-width="0.9"/>
<circle cx="72.40" cy="76.40" r="1.85" fill="#fff" stroke="#3a3a3a" stroke-width="0.9"/>
<circle cx="77.00" cy="61.70" r="1.85" fill="#fff" stroke="#3a3a3a" stroke-width="0.9"/>
<circle cx="100.00" cy="39.00" r="1.85" fill="#fff" stroke="#3a3a3a" stroke-width="0.9"/>
<circle cx="118.50" cy="33.50" r="1.85" fill="#fff" stroke="#3a3a3a" stroke-width="0.9"/>
<circle cx="146.00" cy="23.50" r="1.85" fill="#fff" stroke="#3a3a3a" stroke-width="0.9"/>
<circle cx="193.00" cy="19.00" r="1.85" fill="#fff" stroke="#3a3a3a" stroke-width="0.9"/>
<circle cx="238.80" cy="15.50" r="1.85" fill="#fff" stroke="#3a3a3a" stroke-width="0.9"/>
<circle cx="305.50" cy="192.90" r="1.85" fill="#fff" stroke="#3a3a3a" stroke-width="0.9"/>
<circle cx="325.50" cy="188.50" r="1.85" fill="#fff" stroke="#3a3a3a" stroke-width="0.9"/>
<circle cx="345.60" cy="179.40" r="1.85" fill="#fff" stroke="#3a3a3a" stroke-width="0.9"/>
<circle cx="366.00" cy="168.40" r="1.85" fill="#fff" stroke="#3a3a3a" stroke-width="0.9"/>
<circle cx="386.00" cy="147.10" r="1.85" fill="#fff" stroke="#3a3a3a" stroke-width="0.9"/>
<circle cx="406.80" cy="120.20" r="1.85" fill="#fff" stroke="#3a3a3a" stroke-width="0.9"/>
<circle cx="427.00" cy="90.40" r="1.85" fill="#fff" stroke="#3a3a3a" stroke-width="0.9"/>
<circle cx="441.20" cy="74.50" r="1.85" fill="#fff" stroke="#3a3a3a" stroke-width="0.9"/>
<circle cx="447.60" cy="61.00" r="1.85" fill="#fff" stroke="#3a3a3a" stroke-width="0.9"/>
<circle cx="468.10" cy="40.50" r="1.85" fill="#fff" stroke="#3a3a3a" stroke-width="0.9"/>
<circle cx="475.60" cy="36.00" r="1.85" fill="#fff" stroke="#3a3a3a" stroke-width="0.9"/>
<circle cx="487.20" cy="27.00" r="1.85" fill="#fff" stroke="#3a3a3a" stroke-width="0.9"/>
<circle cx="500.00" cy="23.20" r="1.85" fill="#fff" stroke="#3a3a3a" stroke-width="0.9"/>
<circle cx="509.10" cy="19.30" r="1.85" fill="#fff" stroke="#3a3a3a" stroke-width="0.9"/>
<circle cx="305.5" cy="192.9" r="1.9" fill="#111"/>
<text x="0.00" y="12.50" font-size="16" text-anchor="start" font-weight="bold" fill="#000" transform="scale(1.04,1)">A</text>
<text x="270.30" y="12.60" font-size="16" text-anchor="start" font-weight="bold" fill="#000">B</text>
<text x="108.3" y="246.3" font-size="14" textLength="34.5" lengthAdjust="spacingAndGlyphs">[PEP]</text>
<text x="152.8" y="246.3" font-size="14" textLength="33.0" lengthAdjust="spacingAndGlyphs">(mM)</text>
<text x="369.3" y="247.0" font-size="14" textLength="35.5" lengthAdjust="spacingAndGlyphs">[PEP]</text>
<text x="413.8" y="247.0" font-size="14" textLength="33.5" lengthAdjust="spacingAndGlyphs">(mM)</text>
<text transform="translate(9.9,130.8) rotate(-90)" font-size="12.3" textLength="20.2" lengthAdjust="spacingAndGlyphs">v/V</text>
<text transform="translate(10.6,110.2) rotate(-90)" font-size="8.5" textLength="16.2" lengthAdjust="spacingAndGlyphs">max</text>
<text transform="translate(279.9,127.3) rotate(-90)" font-size="12.3" textLength="19.4" lengthAdjust="spacingAndGlyphs">v/V</text>
<text transform="translate(280.6,106.7) rotate(-90)" font-size="8.5" textLength="16.2" lengthAdjust="spacingAndGlyphs">max</text>
</svg></body></html>
